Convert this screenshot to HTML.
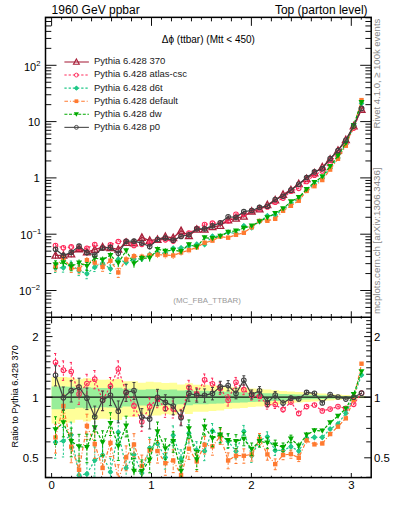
<!DOCTYPE html><html><head><meta charset="utf-8"><style>html,body{margin:0;padding:0;background:#fff}svg{display:block}</style></head><body><svg width="393" height="512" viewBox="0 0 393 512" font-family="Liberation Sans, sans-serif">
<rect width="393" height="512" fill="#fff"/>
<path d="M51.60,377.00L59.45,377.00L59.45,377.00L67.29,377.00L67.29,377.47L75.14,377.47L75.14,379.24L82.98,379.24L82.98,378.15L90.83,378.15L90.83,379.07L98.68,379.07L98.68,379.86L106.52,379.86L106.52,379.60L114.37,379.60L114.37,379.11L122.22,379.11L122.22,381.26L130.06,381.26L130.06,381.14L137.91,381.14L137.91,382.71L145.75,382.71L145.75,381.87L153.60,381.87L153.60,382.13L161.45,382.13L161.45,382.95L169.29,382.95L169.29,382.63L177.14,382.63L177.14,384.46L184.98,384.46L184.98,383.17L192.83,383.17L192.83,384.77L200.68,384.77L200.68,384.77L208.52,384.77L208.52,385.35L216.37,385.35L216.37,385.64L224.21,385.64L224.21,386.82L232.06,386.82L232.06,387.14L239.91,387.14L239.91,387.52L247.75,387.52L247.75,388.43L255.60,388.43L255.60,388.78L263.45,388.78L263.45,389.48L271.29,389.48L271.29,390.16L279.14,390.16L279.14,390.88L286.98,390.88L286.98,391.44L294.83,391.44L294.83,392.10L302.68,392.10L302.68,392.58L310.52,392.58L310.52,393.08L318.37,393.08L318.37,393.54L326.21,393.54L326.21,394.07L334.06,394.07L334.06,394.58L341.91,394.58L341.91,395.09L349.75,395.09L349.75,395.60L357.60,395.60L357.60,396.06L365.45,396.06L365.45,398.36L357.60,398.36L357.60,398.83L349.75,398.83L349.75,399.36L341.91,399.36L341.91,399.90L334.06,399.90L334.06,400.44L326.21,400.44L326.21,401.02L318.37,401.02L318.37,401.52L310.52,401.52L310.52,402.08L302.68,402.08L302.68,402.62L294.83,402.62L294.83,403.37L286.98,403.37L286.98,404.01L279.14,404.01L279.14,404.86L271.29,404.86L271.29,405.67L263.45,405.67L263.45,406.51L255.60,406.51L255.60,406.95L247.75,406.95L247.75,408.09L239.91,408.09L239.91,408.57L232.06,408.57L232.06,408.98L224.21,408.98L224.21,410.52L216.37,410.52L216.37,410.91L208.52,410.91L208.52,411.69L200.68,411.69L200.68,411.69L192.83,411.69L192.83,413.92L184.98,413.92L184.98,412.12L177.14,412.12L177.14,414.70L169.29,414.70L169.29,414.23L161.45,414.23L161.45,415.42L153.60,415.42L153.60,415.80L145.75,415.80L145.75,414.58L137.91,414.58L137.91,416.90L130.06,416.90L130.06,416.72L122.22,416.72L122.22,420.04L114.37,420.04L114.37,419.26L106.52,419.26L106.52,418.85L98.68,418.85L98.68,420.09L90.83,420.09L90.83,421.59L82.98,421.59L82.98,419.83L75.14,419.83L75.14,422.71L67.29,422.71L67.29,423.52L59.45,423.52L59.45,423.52L51.60,423.52Z" fill="#ffff99" stroke="none"/>
<path d="M51.60,386.52L59.45,386.52L59.45,386.52L67.29,386.52L67.29,386.78L75.14,386.78L75.14,387.76L82.98,387.76L82.98,387.16L90.83,387.16L90.83,387.67L98.68,387.67L98.68,388.10L106.52,388.10L106.52,387.96L114.37,387.96L114.37,387.69L122.22,387.69L122.22,388.86L130.06,388.86L130.06,388.80L137.91,388.80L137.91,389.66L145.75,389.66L145.75,389.20L153.60,389.20L153.60,389.34L161.45,389.34L161.45,389.79L169.29,389.79L169.29,389.61L177.14,389.61L177.14,390.60L184.98,390.60L184.98,389.90L192.83,389.90L192.83,390.77L200.68,390.77L200.68,390.77L208.52,390.77L208.52,391.08L216.37,391.08L216.37,391.23L224.21,391.23L224.21,391.86L232.06,391.86L232.06,392.02L239.91,392.02L239.91,392.23L247.75,392.23L247.75,392.71L255.60,392.71L255.60,392.89L263.45,392.89L263.45,393.25L271.29,393.25L271.29,393.61L279.14,393.61L279.14,393.98L286.98,393.98L286.98,394.27L294.83,394.27L294.83,394.61L302.68,394.61L302.68,394.86L310.52,394.86L310.52,395.12L318.37,395.12L318.37,395.35L326.21,395.35L326.21,395.62L334.06,395.62L334.06,395.88L341.91,395.88L341.91,396.14L349.75,396.14L349.75,396.40L357.60,396.40L357.60,396.63L365.45,396.63L365.45,397.78L357.60,397.78L357.60,398.01L349.75,398.01L349.75,398.28L341.91,398.28L341.91,398.54L334.06,398.54L334.06,398.81L326.21,398.81L326.21,399.09L318.37,399.09L318.37,399.33L310.52,399.33L310.52,399.61L302.68,399.61L302.68,399.87L294.83,399.87L294.83,400.23L286.98,400.23L286.98,400.54L279.14,400.54L279.14,400.95L271.29,400.95L271.29,401.33L263.45,401.33L263.45,401.73L255.60,401.73L255.60,401.94L247.75,401.94L247.75,402.47L239.91,402.47L239.91,402.70L232.06,402.70L232.06,402.89L224.21,402.89L224.21,403.61L216.37,403.61L216.37,403.79L208.52,403.79L208.52,404.15L200.68,404.15L200.68,404.15L192.83,404.15L192.83,405.16L184.98,405.16L184.98,404.34L177.14,404.34L177.14,405.51L169.29,405.51L169.29,405.30L161.45,405.30L161.45,405.84L153.60,405.84L153.60,406.01L145.75,406.01L145.75,405.46L137.91,405.46L137.91,406.49L130.06,406.49L130.06,406.41L122.22,406.41L122.22,407.88L114.37,407.88L114.37,407.53L106.52,407.53L106.52,407.36L98.68,407.36L98.68,407.90L90.83,407.90L90.83,408.55L82.98,408.55L82.98,407.78L75.14,407.78L75.14,409.03L67.29,409.03L67.29,409.37L59.45,409.37L59.45,409.37L51.60,409.37Z" fill="#99ee99" stroke="none"/>
<defs><clipPath id="cm"><rect x="45.5" y="17.35" width="325.7" height="299.95"/></clipPath><clipPath id="cr"><rect x="45.5" y="317.3" width="325.7" height="160.3"/></clipPath></defs>
<path d="M45.5,397.20H371.2" stroke="#111" stroke-width="1.3"/>
<path d="M55.52,362.34L63.37,370.13L71.22,371.48L79.06,394.11L86.91,383.62L94.75,379.17L102.60,400.31L110.45,386.21L118.29,369.04L126.14,392.44L133.98,405.93L141.83,421.77L149.68,406.41L157.52,398.97L165.37,408.67L173.21,409.07L181.06,416.71L188.91,387.21L196.75,393.94L204.60,379.82L212.45,383.85L220.29,388.39L228.14,400.22L235.98,382.21L243.83,389.67L251.68,395.47L259.52,396.33L267.37,404.78L275.21,404.58L283.06,409.58L290.91,401.96L298.75,413.38L306.60,406.61L314.45,404.97L322.29,410.90L330.14,409.07L337.98,406.61L345.83,408.38L353.68,404.30L361.52,393.18" fill="none" stroke="#ff2a5a" stroke-width="1.2" stroke-dasharray="2.3,1.9" clip-path="url(#cr)"/>
<path d="M55.52,353.49V372.18M54.02,353.49h3M54.02,372.18h3M63.37,360.90V380.44M61.87,360.90h3M61.87,380.44h3M71.22,362.42V381.60M69.72,362.42h3M69.72,381.60h3M79.06,384.82V404.50M77.56,384.82h3M77.56,404.50h3M86.91,374.29V394.07M85.41,374.29h3M85.41,394.07h3M94.75,370.53V388.77M93.25,370.53h3M93.25,388.77h3M102.60,391.06V410.66M101.10,391.06h3M101.10,410.66h3M110.45,377.50V395.87M108.95,377.50h3M108.95,395.87h3M118.29,360.88V378.05M116.79,360.88h3M116.79,378.05h3M126.14,384.31V401.39M124.64,384.31h3M124.64,401.39h3M133.98,397.12V415.72M132.48,397.12h3M132.48,415.72h3M141.83,413.14V431.34M140.33,413.14h3M140.33,431.34h3M149.68,398.00V415.72M148.18,398.00h3M148.18,415.72h3M157.52,391.03V407.70M156.02,391.03h3M156.02,407.70h3M165.37,400.78V417.35M163.87,400.78h3M163.87,417.35h3M173.21,400.98V418.00M171.71,400.98h3M171.71,418.00h3M181.06,409.36V424.73M179.56,409.36h3M179.56,424.73h3M188.91,380.31V394.72M187.41,380.31h3M187.41,394.72h3M196.75,387.62V400.75M195.25,387.62h3M195.25,400.75h3M204.60,373.97V386.08M203.10,373.97h3M203.10,386.08h3M212.45,378.16V389.93M210.95,378.16h3M210.95,389.93h3M220.29,382.71V394.47M218.79,382.71h3M218.79,394.47h3M228.14,394.79V406.02M226.64,394.79h3M226.64,406.02h3M235.98,377.45V387.25M234.48,377.45h3M234.48,387.25h3M243.83,384.90V394.71M242.33,384.90h3M242.33,394.71h3M251.68,391.02V400.16M250.18,391.02h3M250.18,400.16h3M259.52,392.04V400.84M258.02,392.04h3M258.02,400.84h3M267.37,400.66V409.10M265.87,400.66h3M265.87,409.10h3M275.21,400.84V408.50M273.71,400.84h3M273.71,408.50h3M283.06,406.13V413.17M290.91,398.95V405.07M298.75,410.55V416.32M306.60,404.14V409.15M314.45,402.79V407.20M322.29,408.90V412.94M330.14,407.39V410.79M337.98,405.21V408.02M345.83,407.24V409.52M353.68,403.46V405.14M361.52,392.62V393.75" fill="none" stroke="#ff2a5a" stroke-width="1" stroke-dasharray="2.3,1.9" clip-path="url(#cr)"/>
<g clip-path="url(#cr)"><circle cx="55.52" cy="362.34" r="2.3" fill="none" stroke="#ff2a5a" stroke-width="1.05"/><circle cx="63.37" cy="370.13" r="2.3" fill="none" stroke="#ff2a5a" stroke-width="1.05"/><circle cx="71.22" cy="371.48" r="2.3" fill="none" stroke="#ff2a5a" stroke-width="1.05"/><circle cx="79.06" cy="394.11" r="2.3" fill="none" stroke="#ff2a5a" stroke-width="1.05"/><circle cx="86.91" cy="383.62" r="2.3" fill="none" stroke="#ff2a5a" stroke-width="1.05"/><circle cx="94.75" cy="379.17" r="2.3" fill="none" stroke="#ff2a5a" stroke-width="1.05"/><circle cx="102.60" cy="400.31" r="2.3" fill="none" stroke="#ff2a5a" stroke-width="1.05"/><circle cx="110.45" cy="386.21" r="2.3" fill="none" stroke="#ff2a5a" stroke-width="1.05"/><circle cx="118.29" cy="369.04" r="2.3" fill="none" stroke="#ff2a5a" stroke-width="1.05"/><circle cx="126.14" cy="392.44" r="2.3" fill="none" stroke="#ff2a5a" stroke-width="1.05"/><circle cx="133.98" cy="405.93" r="2.3" fill="none" stroke="#ff2a5a" stroke-width="1.05"/><circle cx="141.83" cy="421.77" r="2.3" fill="none" stroke="#ff2a5a" stroke-width="1.05"/><circle cx="149.68" cy="406.41" r="2.3" fill="none" stroke="#ff2a5a" stroke-width="1.05"/><circle cx="157.52" cy="398.97" r="2.3" fill="none" stroke="#ff2a5a" stroke-width="1.05"/><circle cx="165.37" cy="408.67" r="2.3" fill="none" stroke="#ff2a5a" stroke-width="1.05"/><circle cx="173.21" cy="409.07" r="2.3" fill="none" stroke="#ff2a5a" stroke-width="1.05"/><circle cx="181.06" cy="416.71" r="2.3" fill="none" stroke="#ff2a5a" stroke-width="1.05"/><circle cx="188.91" cy="387.21" r="2.3" fill="none" stroke="#ff2a5a" stroke-width="1.05"/><circle cx="196.75" cy="393.94" r="2.3" fill="none" stroke="#ff2a5a" stroke-width="1.05"/><circle cx="204.60" cy="379.82" r="2.3" fill="none" stroke="#ff2a5a" stroke-width="1.05"/><circle cx="212.45" cy="383.85" r="2.3" fill="none" stroke="#ff2a5a" stroke-width="1.05"/><circle cx="220.29" cy="388.39" r="2.3" fill="none" stroke="#ff2a5a" stroke-width="1.05"/><circle cx="228.14" cy="400.22" r="2.3" fill="none" stroke="#ff2a5a" stroke-width="1.05"/><circle cx="235.98" cy="382.21" r="2.3" fill="none" stroke="#ff2a5a" stroke-width="1.05"/><circle cx="243.83" cy="389.67" r="2.3" fill="none" stroke="#ff2a5a" stroke-width="1.05"/><circle cx="251.68" cy="395.47" r="2.3" fill="none" stroke="#ff2a5a" stroke-width="1.05"/><circle cx="259.52" cy="396.33" r="2.3" fill="none" stroke="#ff2a5a" stroke-width="1.05"/><circle cx="267.37" cy="404.78" r="2.3" fill="none" stroke="#ff2a5a" stroke-width="1.05"/><circle cx="275.21" cy="404.58" r="2.3" fill="none" stroke="#ff2a5a" stroke-width="1.05"/><circle cx="283.06" cy="409.58" r="2.3" fill="none" stroke="#ff2a5a" stroke-width="1.05"/><circle cx="290.91" cy="401.96" r="2.3" fill="none" stroke="#ff2a5a" stroke-width="1.05"/><circle cx="298.75" cy="413.38" r="2.3" fill="none" stroke="#ff2a5a" stroke-width="1.05"/><circle cx="306.60" cy="406.61" r="2.3" fill="none" stroke="#ff2a5a" stroke-width="1.05"/><circle cx="314.45" cy="404.97" r="2.3" fill="none" stroke="#ff2a5a" stroke-width="1.05"/><circle cx="322.29" cy="410.90" r="2.3" fill="none" stroke="#ff2a5a" stroke-width="1.05"/><circle cx="330.14" cy="409.07" r="2.3" fill="none" stroke="#ff2a5a" stroke-width="1.05"/><circle cx="337.98" cy="406.61" r="2.3" fill="none" stroke="#ff2a5a" stroke-width="1.05"/><circle cx="345.83" cy="408.38" r="2.3" fill="none" stroke="#ff2a5a" stroke-width="1.05"/><circle cx="353.68" cy="404.30" r="2.3" fill="none" stroke="#ff2a5a" stroke-width="1.05"/><circle cx="361.52" cy="393.18" r="2.3" fill="none" stroke="#ff2a5a" stroke-width="1.05"/></g>
<path d="M55.52,442.15L63.37,440.99L71.22,434.86L79.06,475.15L86.91,473.88L94.75,460.28L102.60,455.04L110.45,472.01L118.29,432.34L126.14,467.99L133.98,454.71L141.83,473.04L149.68,447.89L157.52,443.77L165.37,457.45L173.21,435.26L181.06,459.03L188.91,433.26L196.75,450.26L204.60,451.07L212.45,430.92L220.29,434.86L228.14,441.13L235.98,451.23L243.83,431.43L251.68,455.72L259.52,440.41L267.37,436.76L275.21,450.42L283.06,450.42L290.91,446.65L298.75,451.07L306.60,438.15L314.45,437.32L322.29,437.32L330.14,429.01L337.98,423.88L345.83,413.17L353.68,396.94L361.52,375.01" fill="none" stroke="#20c888" stroke-width="1.2" stroke-dasharray="2.3,1.9" clip-path="url(#cr)"/>
<path d="M55.52,428.57V458.24M54.02,428.57h3M54.02,458.24h3M63.37,427.49V456.96M61.87,427.49h3M61.87,456.96h3M71.22,422.11V449.79M69.72,422.11h3M69.72,449.79h3M79.06,460.82V492.29M77.56,460.82h3M77.56,492.29h3M86.91,458.76V492.16M85.41,458.76h3M85.41,492.16h3M94.75,446.91V476.07M93.25,446.91h3M93.25,476.07h3M102.60,442.62V469.53M101.10,442.62h3M101.10,469.53h3M110.45,458.20V488.40M108.95,458.20h3M108.95,488.40h3M118.29,420.84V445.58M116.79,420.84h3M116.79,445.58h3M126.14,455.77V482.19M124.64,455.77h3M124.64,482.19h3M133.98,443.24V467.90M132.48,443.24h3M132.48,467.90h3M141.83,461.66V486.13M140.33,461.66h3M140.33,486.13h3M149.68,437.36V459.87M148.18,437.36h3M148.18,459.87h3M157.52,433.65V455.23M156.02,433.65h3M156.02,455.23h3M165.37,447.16V469.11M163.87,447.16h3M163.87,469.11h3M173.21,425.93V445.72M171.71,425.93h3M171.71,445.72h3M181.06,449.77V469.39M179.56,449.77h3M179.56,469.39h3M188.91,424.38V443.15M187.41,424.38h3M187.41,443.15h3M196.75,441.66V459.81M195.25,441.66h3M195.25,459.81h3M204.60,442.42V460.66M203.10,442.42h3M203.10,460.66h3M212.45,423.54V438.97M210.95,423.54h3M210.95,438.97h3M220.29,427.52V442.88M218.79,427.52h3M218.79,442.88h3M228.14,434.32V448.52M226.64,434.32h3M226.64,448.52h3M235.98,444.25V458.81M234.48,444.25h3M234.48,458.81h3M243.83,425.42V437.89M242.33,425.42h3M242.33,437.89h3M251.68,449.51V462.42M250.18,449.51h3M250.18,462.42h3M259.52,434.93V446.26M258.02,434.93h3M258.02,446.26h3M267.37,431.84V441.98M265.87,431.84h3M265.87,441.98h3M275.21,445.59V455.54M273.71,445.59h3M273.71,455.54h3M283.06,446.09V454.98M281.56,446.09h3M281.56,454.98h3M290.91,442.79V450.69M289.41,442.79h3M289.41,450.69h3M298.75,447.56V454.72M297.25,447.56h3M297.25,454.72h3M306.60,435.20V441.20M314.45,434.70V440.01M322.29,435.00V439.70M330.14,427.12V430.94M337.98,422.34V425.44M345.83,412.01V414.35M353.68,396.14V397.75M361.52,374.50V375.51" fill="none" stroke="#20c888" stroke-width="1" stroke-dasharray="2.3,1.9" clip-path="url(#cr)"/>
<g clip-path="url(#cr)"><path d="M55.52,439.05L58.32,442.15L55.52,445.25L52.72,442.15Z" fill="#20c888"/><circle cx="55.52" cy="442.15" r="2.1" fill="#20c888"/><path d="M63.37,437.89L66.17,440.99L63.37,444.09L60.57,440.99Z" fill="#20c888"/><circle cx="63.37" cy="440.99" r="2.1" fill="#20c888"/><path d="M71.22,431.76L74.02,434.86L71.22,437.96L68.42,434.86Z" fill="#20c888"/><circle cx="71.22" cy="434.86" r="2.1" fill="#20c888"/><path d="M79.06,472.05L81.86,475.15L79.06,478.25L76.26,475.15Z" fill="#20c888"/><circle cx="79.06" cy="475.15" r="2.1" fill="#20c888"/><path d="M86.91,470.78L89.71,473.88L86.91,476.98L84.11,473.88Z" fill="#20c888"/><circle cx="86.91" cy="473.88" r="2.1" fill="#20c888"/><path d="M94.75,457.18L97.55,460.28L94.75,463.38L91.95,460.28Z" fill="#20c888"/><circle cx="94.75" cy="460.28" r="2.1" fill="#20c888"/><path d="M102.60,451.94L105.40,455.04L102.60,458.14L99.80,455.04Z" fill="#20c888"/><circle cx="102.60" cy="455.04" r="2.1" fill="#20c888"/><path d="M110.45,468.91L113.25,472.01L110.45,475.11L107.65,472.01Z" fill="#20c888"/><circle cx="110.45" cy="472.01" r="2.1" fill="#20c888"/><path d="M118.29,429.24L121.09,432.34L118.29,435.44L115.49,432.34Z" fill="#20c888"/><circle cx="118.29" cy="432.34" r="2.1" fill="#20c888"/><path d="M126.14,464.89L128.94,467.99L126.14,471.09L123.34,467.99Z" fill="#20c888"/><circle cx="126.14" cy="467.99" r="2.1" fill="#20c888"/><path d="M133.98,451.61L136.78,454.71L133.98,457.81L131.18,454.71Z" fill="#20c888"/><circle cx="133.98" cy="454.71" r="2.1" fill="#20c888"/><path d="M141.83,469.94L144.63,473.04L141.83,476.14L139.03,473.04Z" fill="#20c888"/><circle cx="141.83" cy="473.04" r="2.1" fill="#20c888"/><path d="M149.68,444.79L152.48,447.89L149.68,450.99L146.88,447.89Z" fill="#20c888"/><circle cx="149.68" cy="447.89" r="2.1" fill="#20c888"/><path d="M157.52,440.67L160.32,443.77L157.52,446.87L154.72,443.77Z" fill="#20c888"/><circle cx="157.52" cy="443.77" r="2.1" fill="#20c888"/><path d="M165.37,454.35L168.17,457.45L165.37,460.55L162.57,457.45Z" fill="#20c888"/><circle cx="165.37" cy="457.45" r="2.1" fill="#20c888"/><path d="M173.21,432.16L176.01,435.26L173.21,438.36L170.41,435.26Z" fill="#20c888"/><circle cx="173.21" cy="435.26" r="2.1" fill="#20c888"/><path d="M181.06,455.93L183.86,459.03L181.06,462.13L178.26,459.03Z" fill="#20c888"/><circle cx="181.06" cy="459.03" r="2.1" fill="#20c888"/><path d="M188.91,430.16L191.71,433.26L188.91,436.36L186.11,433.26Z" fill="#20c888"/><circle cx="188.91" cy="433.26" r="2.1" fill="#20c888"/><path d="M196.75,447.16L199.55,450.26L196.75,453.36L193.95,450.26Z" fill="#20c888"/><circle cx="196.75" cy="450.26" r="2.1" fill="#20c888"/><path d="M204.60,447.97L207.40,451.07L204.60,454.17L201.80,451.07Z" fill="#20c888"/><circle cx="204.60" cy="451.07" r="2.1" fill="#20c888"/><path d="M212.45,427.82L215.25,430.92L212.45,434.02L209.65,430.92Z" fill="#20c888"/><circle cx="212.45" cy="430.92" r="2.1" fill="#20c888"/><path d="M220.29,431.76L223.09,434.86L220.29,437.96L217.49,434.86Z" fill="#20c888"/><circle cx="220.29" cy="434.86" r="2.1" fill="#20c888"/><path d="M228.14,438.03L230.94,441.13L228.14,444.23L225.34,441.13Z" fill="#20c888"/><circle cx="228.14" cy="441.13" r="2.1" fill="#20c888"/><path d="M235.98,448.13L238.78,451.23L235.98,454.33L233.18,451.23Z" fill="#20c888"/><circle cx="235.98" cy="451.23" r="2.1" fill="#20c888"/><path d="M243.83,428.33L246.63,431.43L243.83,434.53L241.03,431.43Z" fill="#20c888"/><circle cx="243.83" cy="431.43" r="2.1" fill="#20c888"/><path d="M251.68,452.62L254.48,455.72L251.68,458.82L248.88,455.72Z" fill="#20c888"/><circle cx="251.68" cy="455.72" r="2.1" fill="#20c888"/><path d="M259.52,437.31L262.32,440.41L259.52,443.51L256.72,440.41Z" fill="#20c888"/><circle cx="259.52" cy="440.41" r="2.1" fill="#20c888"/><path d="M267.37,433.66L270.17,436.76L267.37,439.86L264.57,436.76Z" fill="#20c888"/><circle cx="267.37" cy="436.76" r="2.1" fill="#20c888"/><path d="M275.21,447.32L278.01,450.42L275.21,453.52L272.41,450.42Z" fill="#20c888"/><circle cx="275.21" cy="450.42" r="2.1" fill="#20c888"/><path d="M283.06,447.32L285.86,450.42L283.06,453.52L280.26,450.42Z" fill="#20c888"/><circle cx="283.06" cy="450.42" r="2.1" fill="#20c888"/><path d="M290.91,443.55L293.71,446.65L290.91,449.75L288.11,446.65Z" fill="#20c888"/><circle cx="290.91" cy="446.65" r="2.1" fill="#20c888"/><path d="M298.75,447.97L301.55,451.07L298.75,454.17L295.95,451.07Z" fill="#20c888"/><circle cx="298.75" cy="451.07" r="2.1" fill="#20c888"/><path d="M306.60,435.05L309.40,438.15L306.60,441.25L303.80,438.15Z" fill="#20c888"/><circle cx="306.60" cy="438.15" r="2.1" fill="#20c888"/><path d="M314.45,434.22L317.25,437.32L314.45,440.42L311.65,437.32Z" fill="#20c888"/><circle cx="314.45" cy="437.32" r="2.1" fill="#20c888"/><path d="M322.29,434.22L325.09,437.32L322.29,440.42L319.49,437.32Z" fill="#20c888"/><circle cx="322.29" cy="437.32" r="2.1" fill="#20c888"/><path d="M330.14,425.91L332.94,429.01L330.14,432.11L327.34,429.01Z" fill="#20c888"/><circle cx="330.14" cy="429.01" r="2.1" fill="#20c888"/><path d="M337.98,420.78L340.78,423.88L337.98,426.98L335.18,423.88Z" fill="#20c888"/><circle cx="337.98" cy="423.88" r="2.1" fill="#20c888"/><path d="M345.83,410.07L348.63,413.17L345.83,416.27L343.03,413.17Z" fill="#20c888"/><circle cx="345.83" cy="413.17" r="2.1" fill="#20c888"/><path d="M353.68,393.84L356.48,396.94L353.68,400.04L350.88,396.94Z" fill="#20c888"/><circle cx="353.68" cy="396.94" r="2.1" fill="#20c888"/><path d="M361.52,371.91L364.32,375.01L361.52,378.11L358.72,375.01Z" fill="#20c888"/><circle cx="361.52" cy="375.01" r="2.1" fill="#20c888"/></g>
<path d="M55.52,437.45L63.37,406.02L71.22,446.65L79.06,469.77L86.91,425.92L94.75,444.07L102.60,467.99L110.45,442.88L118.29,479.52L126.14,457.45L133.98,444.52L141.83,466.04L149.68,450.26L157.52,451.07L165.37,463.21L173.21,460.46L181.06,475.15L188.91,448.67L196.75,461.37L204.60,444.82L212.45,446.34L220.29,436.35L228.14,460.46L235.98,455.72L243.83,455.72L251.68,454.37L259.52,438.99L267.37,454.37L275.21,464.14L283.06,455.04L290.91,454.03L298.75,457.80L306.60,440.41L314.45,444.37L322.29,443.48L330.14,434.06L337.98,426.65L345.83,418.36L353.68,399.77L361.52,363.70" fill="none" stroke="#ff7a30" stroke-width="1.2" stroke-dasharray="3.6,1.9,1,1.9" clip-path="url(#cr)"/>
<path d="M55.52,424.21V453.07M54.02,424.21h3M54.02,453.07h3M63.37,394.82V418.87M61.87,394.82h3M61.87,418.87h3M71.22,433.08V462.72M69.72,433.08h3M69.72,462.72h3M79.06,455.84V486.34M77.56,455.84h3M77.56,486.34h3M86.91,414.20V439.46M85.41,414.20h3M85.41,439.46h3M94.75,431.81V458.34M93.25,431.81h3M93.25,458.34h3M102.60,454.68V483.69M101.10,454.68h3M101.10,483.69h3M110.45,431.06V456.56M108.95,431.06h3M108.95,456.56h3M118.29,464.75V497.30M116.79,464.75h3M116.79,497.30h3M126.14,445.90V470.76M124.64,445.90h3M124.64,470.76h3M133.98,433.67V456.92M132.48,433.67h3M132.48,456.92h3M141.83,455.08V478.58M140.33,455.08h3M140.33,478.58h3M149.68,439.59V462.42M148.18,439.59h3M148.18,462.42h3M157.52,440.54V463.05M156.02,440.54h3M156.02,463.05h3M165.37,452.59V475.29M163.87,452.59h3M163.87,475.29h3M173.21,449.76V472.66M171.71,449.76h3M171.71,472.66h3M181.06,465.05V486.57M179.56,465.05h3M179.56,486.57h3M188.91,439.01V459.54M187.41,439.01h3M187.41,459.54h3M196.75,452.22V471.58M195.25,452.22h3M195.25,471.58h3M204.60,436.47V454.06M203.10,436.47h3M203.10,454.06h3M212.45,438.32V455.18M210.95,438.32h3M210.95,455.18h3M220.29,428.95V444.44M218.79,428.95h3M218.79,444.44h3M228.14,452.89V468.75M226.64,452.89h3M226.64,468.75h3M235.98,448.57V463.51M234.48,448.57h3M234.48,463.51h3M243.83,448.85V463.19M242.33,448.85h3M242.33,463.19h3M251.68,448.20V461.01M250.18,448.20h3M250.18,461.01h3M259.52,433.55V444.79M258.02,433.55h3M258.02,444.79h3M267.37,448.94V460.15M265.87,448.94h3M265.87,460.15h3M275.21,458.92V469.69M273.71,458.92h3M273.71,469.69h3M283.06,450.60V459.73M281.56,450.60h3M281.56,459.73h3M290.91,450.01V458.25M289.41,450.01h3M289.41,458.25h3M298.75,454.16V461.59M297.25,454.16h3M297.25,461.59h3M306.60,437.43V443.50M314.45,441.65V447.18M322.29,441.08V445.94M330.14,432.11V436.05M337.98,425.09V428.24M345.83,417.16V419.58M353.68,398.96V400.60M361.52,363.22V364.17" fill="none" stroke="#ff7a30" stroke-width="1" stroke-dasharray="3.6,1.9,1,1.9" clip-path="url(#cr)"/>
<g clip-path="url(#cr)"><rect x="53.32" y="435.25" width="4.4" height="4.4" fill="#ff7a30"/><rect x="61.17" y="403.82" width="4.4" height="4.4" fill="#ff7a30"/><rect x="69.02" y="444.45" width="4.4" height="4.4" fill="#ff7a30"/><rect x="76.86" y="467.57" width="4.4" height="4.4" fill="#ff7a30"/><rect x="84.71" y="423.72" width="4.4" height="4.4" fill="#ff7a30"/><rect x="92.55" y="441.87" width="4.4" height="4.4" fill="#ff7a30"/><rect x="100.40" y="465.79" width="4.4" height="4.4" fill="#ff7a30"/><rect x="108.25" y="440.68" width="4.4" height="4.4" fill="#ff7a30"/><rect x="116.09" y="477.32" width="4.4" height="4.4" fill="#ff7a30"/><rect x="123.94" y="455.25" width="4.4" height="4.4" fill="#ff7a30"/><rect x="131.78" y="442.32" width="4.4" height="4.4" fill="#ff7a30"/><rect x="139.63" y="463.84" width="4.4" height="4.4" fill="#ff7a30"/><rect x="147.48" y="448.06" width="4.4" height="4.4" fill="#ff7a30"/><rect x="155.32" y="448.87" width="4.4" height="4.4" fill="#ff7a30"/><rect x="163.17" y="461.01" width="4.4" height="4.4" fill="#ff7a30"/><rect x="171.01" y="458.26" width="4.4" height="4.4" fill="#ff7a30"/><rect x="178.86" y="472.95" width="4.4" height="4.4" fill="#ff7a30"/><rect x="186.71" y="446.47" width="4.4" height="4.4" fill="#ff7a30"/><rect x="194.55" y="459.17" width="4.4" height="4.4" fill="#ff7a30"/><rect x="202.40" y="442.62" width="4.4" height="4.4" fill="#ff7a30"/><rect x="210.25" y="444.14" width="4.4" height="4.4" fill="#ff7a30"/><rect x="218.09" y="434.15" width="4.4" height="4.4" fill="#ff7a30"/><rect x="225.94" y="458.26" width="4.4" height="4.4" fill="#ff7a30"/><rect x="233.78" y="453.52" width="4.4" height="4.4" fill="#ff7a30"/><rect x="241.63" y="453.52" width="4.4" height="4.4" fill="#ff7a30"/><rect x="249.48" y="452.17" width="4.4" height="4.4" fill="#ff7a30"/><rect x="257.32" y="436.79" width="4.4" height="4.4" fill="#ff7a30"/><rect x="265.17" y="452.17" width="4.4" height="4.4" fill="#ff7a30"/><rect x="273.01" y="461.94" width="4.4" height="4.4" fill="#ff7a30"/><rect x="280.86" y="452.84" width="4.4" height="4.4" fill="#ff7a30"/><rect x="288.71" y="451.83" width="4.4" height="4.4" fill="#ff7a30"/><rect x="296.55" y="455.60" width="4.4" height="4.4" fill="#ff7a30"/><rect x="304.40" y="438.21" width="4.4" height="4.4" fill="#ff7a30"/><rect x="312.25" y="442.17" width="4.4" height="4.4" fill="#ff7a30"/><rect x="320.09" y="441.28" width="4.4" height="4.4" fill="#ff7a30"/><rect x="327.94" y="431.86" width="4.4" height="4.4" fill="#ff7a30"/><rect x="335.78" y="424.45" width="4.4" height="4.4" fill="#ff7a30"/><rect x="343.63" y="416.16" width="4.4" height="4.4" fill="#ff7a30"/><rect x="351.48" y="397.57" width="4.4" height="4.4" fill="#ff7a30"/><rect x="359.32" y="361.50" width="4.4" height="4.4" fill="#ff7a30"/></g>
<path d="M55.52,429.51L63.37,422.58L71.22,441.28L79.06,446.65L86.91,447.27L94.75,427.51L102.60,442.44L110.45,423.41L118.29,446.04L126.14,425.92L133.98,470.98L141.83,471.19L149.68,459.92L157.52,431.56L165.37,448.67L173.21,441.42L181.06,470.98L188.91,428.63L196.75,459.56L204.60,426.77L212.45,438.29L220.29,434.86L228.14,440.41L235.98,441.28L243.83,438.99L251.68,448.99L259.52,441.28L267.37,442.88L275.21,444.82L283.06,447.27L290.91,438.85L298.75,445.73L306.60,434.86L314.45,430.53L322.29,430.92L330.14,422.58L337.98,416.05L345.83,408.67L353.68,394.28L361.52,371.48" fill="none" stroke="#00aa00" stroke-width="1.2" stroke-dasharray="3,1.6" clip-path="url(#cr)"/>
<path d="M55.52,416.81V444.38M54.02,416.81h3M54.02,444.38h3M63.37,410.34V436.82M61.87,410.34h3M61.87,436.82h3M71.22,428.09V456.82M69.72,428.09h3M69.72,456.82h3M79.06,434.33V460.99M77.56,434.33h3M77.56,460.99h3M86.91,434.13V462.73M85.41,434.13h3M85.41,462.73h3M94.75,416.29V440.39M93.25,416.29h3M93.25,440.39h3M102.60,430.83V455.84M101.10,430.83h3M101.10,455.84h3M110.45,412.76V435.53M108.95,412.76h3M108.95,435.53h3M118.29,433.67V460.45M116.79,433.67h3M116.79,460.45h3M126.14,416.18V436.89M124.64,416.18h3M124.64,436.89h3M133.98,458.48V485.58M132.48,458.48h3M132.48,485.58h3M141.83,459.91V484.13M140.33,459.91h3M140.33,484.13h3M149.68,448.68V472.82M148.18,448.68h3M148.18,472.82h3M157.52,422.08V442.19M156.02,422.08h3M156.02,442.19h3M165.37,438.86V459.73M163.87,438.86h3M163.87,459.73h3M173.21,431.77V452.28M171.71,431.77h3M171.71,452.28h3M181.06,461.11V482.12M179.56,461.11h3M179.56,482.12h3M188.91,419.97V438.25M187.41,419.97h3M187.41,438.25h3M196.75,450.51V469.66M195.25,450.51h3M195.25,469.66h3M204.60,419.20V435.06M203.10,419.20h3M203.10,435.06h3M212.45,430.61V446.71M210.95,430.61h3M210.95,446.71h3M220.29,427.52V442.88M218.79,427.52h3M218.79,442.88h3M228.14,433.63V447.77M226.64,433.63h3M226.64,447.77h3M235.98,434.67V448.42M234.48,434.67h3M234.48,448.42h3M243.83,432.72V445.75M242.33,432.72h3M242.33,445.75h3M251.68,443.00V455.42M250.18,443.00h3M250.18,455.42h3M259.52,435.77V447.15M258.02,435.77h3M258.02,447.15h3M267.37,437.79V448.29M265.87,437.79h3M265.87,448.29h3M275.21,440.13V449.78M273.71,440.13h3M273.71,449.78h3M283.06,443.01V451.74M281.56,443.01h3M281.56,451.74h3M290.91,435.15V442.71M289.41,435.15h3M289.41,442.71h3M298.75,442.33V449.27M306.60,431.97V437.85M314.45,428.02V433.12M322.29,428.68V433.21M330.14,420.76V424.44M337.98,414.59V417.55M345.83,407.54V409.82M353.68,393.49V395.07M361.52,370.99V371.98" fill="none" stroke="#00aa00" stroke-width="1" stroke-dasharray="3,1.6" clip-path="url(#cr)"/>
<g clip-path="url(#cr)"><path d="M52.52,427.21L58.52,427.21L55.52,432.41Z" fill="#00aa00"/><path d="M60.37,420.28L66.37,420.28L63.37,425.48Z" fill="#00aa00"/><path d="M68.22,438.98L74.22,438.98L71.22,444.18Z" fill="#00aa00"/><path d="M76.06,444.35L82.06,444.35L79.06,449.55Z" fill="#00aa00"/><path d="M83.91,444.97L89.91,444.97L86.91,450.17Z" fill="#00aa00"/><path d="M91.75,425.21L97.75,425.21L94.75,430.41Z" fill="#00aa00"/><path d="M99.60,440.14L105.60,440.14L102.60,445.34Z" fill="#00aa00"/><path d="M107.45,421.11L113.45,421.11L110.45,426.31Z" fill="#00aa00"/><path d="M115.29,443.74L121.29,443.74L118.29,448.94Z" fill="#00aa00"/><path d="M123.14,423.62L129.14,423.62L126.14,428.82Z" fill="#00aa00"/><path d="M130.98,468.68L136.98,468.68L133.98,473.88Z" fill="#00aa00"/><path d="M138.83,468.89L144.83,468.89L141.83,474.09Z" fill="#00aa00"/><path d="M146.68,457.62L152.68,457.62L149.68,462.82Z" fill="#00aa00"/><path d="M154.52,429.26L160.52,429.26L157.52,434.46Z" fill="#00aa00"/><path d="M162.37,446.37L168.37,446.37L165.37,451.57Z" fill="#00aa00"/><path d="M170.21,439.12L176.21,439.12L173.21,444.32Z" fill="#00aa00"/><path d="M178.06,468.68L184.06,468.68L181.06,473.88Z" fill="#00aa00"/><path d="M185.91,426.33L191.91,426.33L188.91,431.53Z" fill="#00aa00"/><path d="M193.75,457.26L199.75,457.26L196.75,462.46Z" fill="#00aa00"/><path d="M201.60,424.47L207.60,424.47L204.60,429.67Z" fill="#00aa00"/><path d="M209.45,435.99L215.45,435.99L212.45,441.19Z" fill="#00aa00"/><path d="M217.29,432.56L223.29,432.56L220.29,437.76Z" fill="#00aa00"/><path d="M225.14,438.11L231.14,438.11L228.14,443.31Z" fill="#00aa00"/><path d="M232.98,438.98L238.98,438.98L235.98,444.18Z" fill="#00aa00"/><path d="M240.83,436.69L246.83,436.69L243.83,441.89Z" fill="#00aa00"/><path d="M248.68,446.69L254.68,446.69L251.68,451.89Z" fill="#00aa00"/><path d="M256.52,438.98L262.52,438.98L259.52,444.18Z" fill="#00aa00"/><path d="M264.37,440.58L270.37,440.58L267.37,445.78Z" fill="#00aa00"/><path d="M272.21,442.52L278.21,442.52L275.21,447.72Z" fill="#00aa00"/><path d="M280.06,444.97L286.06,444.97L283.06,450.17Z" fill="#00aa00"/><path d="M287.91,436.55L293.91,436.55L290.91,441.75Z" fill="#00aa00"/><path d="M295.75,443.43L301.75,443.43L298.75,448.63Z" fill="#00aa00"/><path d="M303.60,432.56L309.60,432.56L306.60,437.76Z" fill="#00aa00"/><path d="M311.45,428.23L317.45,428.23L314.45,433.43Z" fill="#00aa00"/><path d="M319.29,428.62L325.29,428.62L322.29,433.82Z" fill="#00aa00"/><path d="M327.14,420.28L333.14,420.28L330.14,425.48Z" fill="#00aa00"/><path d="M334.98,413.75L340.98,413.75L337.98,418.95Z" fill="#00aa00"/><path d="M342.83,406.37L348.83,406.37L345.83,411.57Z" fill="#00aa00"/><path d="M350.68,391.98L356.68,391.98L353.68,397.18Z" fill="#00aa00"/><path d="M358.52,369.18L364.52,369.18L361.52,374.38Z" fill="#00aa00"/></g>
<path d="M55.52,375.28L63.37,397.73L71.22,390.63L79.06,387.14L86.91,398.17L94.75,416.71L102.60,400.31L110.45,395.38L118.29,411.20L126.14,392.44L133.98,390.63L141.83,417.04L149.68,418.92L157.52,397.20L165.37,402.42L173.21,406.02L181.06,417.70L188.91,393.44L196.75,395.30L204.60,395.30L212.45,393.44L220.29,386.90L228.14,385.59L235.98,393.44L243.83,380.32L251.68,394.36L259.52,390.80L267.37,402.52L275.21,395.13L283.06,403.08L290.91,398.17L298.75,398.88L306.60,392.44L314.45,393.35L322.29,402.89L330.14,394.45L337.98,397.03L345.83,399.06L353.68,397.20L361.52,393.18" fill="none" stroke="#404040" stroke-width="1.2" clip-path="url(#cr)"/>
<path d="M55.52,365.79V385.92M54.02,365.79h3M54.02,385.92h3M63.37,387.01V409.94M61.87,387.01h3M61.87,409.94h3M71.22,380.58V402.00M69.72,380.58h3M69.72,402.00h3M79.06,378.20V397.09M77.56,378.20h3M77.56,397.09h3M86.91,388.07V409.58M85.41,388.07h3M85.41,409.58h3M94.75,406.12V428.76M93.25,406.12h3M93.25,428.76h3M102.60,391.06V410.66M101.10,391.06h3M101.10,410.66h3M110.45,386.23V405.60M108.95,386.23h3M108.95,405.60h3M118.29,400.94V422.83M116.79,400.94h3M116.79,422.83h3M126.14,384.31V401.39M124.64,384.31h3M124.64,401.39h3M133.98,382.53V399.57M132.48,382.53h3M132.48,399.57h3M141.83,408.63V426.34M140.33,408.63h3M140.33,426.34h3M149.68,409.92V428.96M148.18,409.92h3M148.18,428.96h3M157.52,389.34V405.84M156.02,389.34h3M156.02,405.84h3M165.37,394.80V410.78M163.87,394.80h3M163.87,410.78h3M173.21,398.06V414.79M171.71,398.06h3M171.71,414.79h3M181.06,410.31V425.77M179.56,410.31h3M179.56,425.77h3M188.91,386.29V401.22M187.41,386.29h3M187.41,401.22h3M196.75,388.93V402.16M195.25,388.93h3M195.25,402.16h3M204.60,388.93V402.16M203.10,388.93h3M203.10,402.16h3M212.45,387.44V399.88M210.95,387.44h3M210.95,399.88h3M220.29,381.26V392.93M218.79,381.26h3M218.79,392.93h3M228.14,380.58V390.91M226.64,380.58h3M226.64,390.91h3M235.98,388.37V398.82M234.48,388.37h3M234.48,398.82h3M243.83,375.79V385.09M242.33,375.79h3M242.33,385.09h3M251.68,389.94V399.02M250.18,389.94h3M250.18,399.02h3M259.52,386.64V395.16M258.02,386.64h3M258.02,395.16h3M267.37,398.45V406.78M265.87,398.45h3M265.87,406.78h3M275.21,391.58V398.83M273.71,391.58h3M273.71,398.83h3M283.06,399.75V406.53M290.91,395.22V401.21M298.75,396.26V401.57M306.60,390.16V394.78M314.45,391.31V395.44M322.29,400.98V404.84M330.14,392.89V396.03M337.98,395.71V398.36M345.83,397.98V400.14M353.68,396.40V398.01M361.52,392.62V393.75" fill="none" stroke="#404040" stroke-width="1" clip-path="url(#cr)"/>
<g clip-path="url(#cr)"><circle cx="55.52" cy="375.28" r="2.3" fill="none" stroke="#404040" stroke-width="1.05"/><circle cx="63.37" cy="397.73" r="2.3" fill="none" stroke="#404040" stroke-width="1.05"/><circle cx="71.22" cy="390.63" r="2.3" fill="none" stroke="#404040" stroke-width="1.05"/><circle cx="79.06" cy="387.14" r="2.3" fill="none" stroke="#404040" stroke-width="1.05"/><circle cx="86.91" cy="398.17" r="2.3" fill="none" stroke="#404040" stroke-width="1.05"/><circle cx="94.75" cy="416.71" r="2.3" fill="none" stroke="#404040" stroke-width="1.05"/><circle cx="102.60" cy="400.31" r="2.3" fill="none" stroke="#404040" stroke-width="1.05"/><circle cx="110.45" cy="395.38" r="2.3" fill="none" stroke="#404040" stroke-width="1.05"/><circle cx="118.29" cy="411.20" r="2.3" fill="none" stroke="#404040" stroke-width="1.05"/><circle cx="126.14" cy="392.44" r="2.3" fill="none" stroke="#404040" stroke-width="1.05"/><circle cx="133.98" cy="390.63" r="2.3" fill="none" stroke="#404040" stroke-width="1.05"/><circle cx="141.83" cy="417.04" r="2.3" fill="none" stroke="#404040" stroke-width="1.05"/><circle cx="149.68" cy="418.92" r="2.3" fill="none" stroke="#404040" stroke-width="1.05"/><circle cx="157.52" cy="397.20" r="2.3" fill="none" stroke="#404040" stroke-width="1.05"/><circle cx="165.37" cy="402.42" r="2.3" fill="none" stroke="#404040" stroke-width="1.05"/><circle cx="173.21" cy="406.02" r="2.3" fill="none" stroke="#404040" stroke-width="1.05"/><circle cx="181.06" cy="417.70" r="2.3" fill="none" stroke="#404040" stroke-width="1.05"/><circle cx="188.91" cy="393.44" r="2.3" fill="none" stroke="#404040" stroke-width="1.05"/><circle cx="196.75" cy="395.30" r="2.3" fill="none" stroke="#404040" stroke-width="1.05"/><circle cx="204.60" cy="395.30" r="2.3" fill="none" stroke="#404040" stroke-width="1.05"/><circle cx="212.45" cy="393.44" r="2.3" fill="none" stroke="#404040" stroke-width="1.05"/><circle cx="220.29" cy="386.90" r="2.3" fill="none" stroke="#404040" stroke-width="1.05"/><circle cx="228.14" cy="385.59" r="2.3" fill="none" stroke="#404040" stroke-width="1.05"/><circle cx="235.98" cy="393.44" r="2.3" fill="none" stroke="#404040" stroke-width="1.05"/><circle cx="243.83" cy="380.32" r="2.3" fill="none" stroke="#404040" stroke-width="1.05"/><circle cx="251.68" cy="394.36" r="2.3" fill="none" stroke="#404040" stroke-width="1.05"/><circle cx="259.52" cy="390.80" r="2.3" fill="none" stroke="#404040" stroke-width="1.05"/><circle cx="267.37" cy="402.52" r="2.3" fill="none" stroke="#404040" stroke-width="1.05"/><circle cx="275.21" cy="395.13" r="2.3" fill="none" stroke="#404040" stroke-width="1.05"/><circle cx="283.06" cy="403.08" r="2.3" fill="none" stroke="#404040" stroke-width="1.05"/><circle cx="290.91" cy="398.17" r="2.3" fill="none" stroke="#404040" stroke-width="1.05"/><circle cx="298.75" cy="398.88" r="2.3" fill="none" stroke="#404040" stroke-width="1.05"/><circle cx="306.60" cy="392.44" r="2.3" fill="none" stroke="#404040" stroke-width="1.05"/><circle cx="314.45" cy="393.35" r="2.3" fill="none" stroke="#404040" stroke-width="1.05"/><circle cx="322.29" cy="402.89" r="2.3" fill="none" stroke="#404040" stroke-width="1.05"/><circle cx="330.14" cy="394.45" r="2.3" fill="none" stroke="#404040" stroke-width="1.05"/><circle cx="337.98" cy="397.03" r="2.3" fill="none" stroke="#404040" stroke-width="1.05"/><circle cx="345.83" cy="399.06" r="2.3" fill="none" stroke="#404040" stroke-width="1.05"/><circle cx="353.68" cy="397.20" r="2.3" fill="none" stroke="#404040" stroke-width="1.05"/><circle cx="361.52" cy="393.18" r="2.3" fill="none" stroke="#404040" stroke-width="1.05"/></g>
<path d="M55.52,255.40L63.37,255.40L71.22,254.10L79.06,249.00L86.91,252.20L94.75,249.50L102.60,247.10L110.45,247.90L118.29,249.40L126.14,242.60L133.98,243.00L141.83,237.50L149.68,240.50L157.52,239.60L165.37,236.60L173.21,237.80L181.06,230.70L188.91,235.80L196.75,229.40L204.60,229.40L212.45,226.90L220.29,225.60L228.14,220.00L235.98,218.40L243.83,216.40L251.68,211.30L259.52,209.20L267.37,204.80L275.21,200.10L283.06,194.60L290.91,189.90L298.75,183.80L306.60,178.80L314.45,173.00L322.29,167.10L330.14,159.30L337.98,150.50L345.83,139.80L353.68,126.10L361.52,109.50" fill="none" stroke="#a8203a" stroke-width="1.3" clip-path="url(#cm)"/>
<path d="M55.52,252.41V258.80M63.37,252.41V258.80M71.22,251.19V257.41M79.06,246.36V251.96M86.91,249.39V255.37M94.75,246.83V252.49M102.60,244.56V249.94M110.45,245.32V250.79M118.29,246.74V252.39M126.14,240.27V245.18M133.98,240.65V245.60M141.83,235.39V239.81M149.68,238.26V242.96M157.52,237.40V242.02M165.37,234.53V238.87M173.21,235.68V240.12M181.06,228.85V232.70M188.91,233.76V238.03M196.75,227.60V231.34M204.60,227.60V231.34M212.45,225.19V228.74M220.29,223.93V227.39M228.14,218.51V221.59M235.98,216.95V219.94M243.83,215.01V217.88M251.68,210.04V212.62M259.52,207.99V210.47M267.37,203.70V205.96M275.21,199.10V201.15M283.06,193.70V195.53M290.91,189.08V190.75M298.75,183.08V184.55M306.60,178.15V179.47M314.45,172.42V173.60M322.29,166.58V167.63M330.14,158.86V159.75M337.98,150.13V150.87M345.83,139.50V140.10M353.68,125.88V126.33M361.52,109.34V109.66" fill="none" stroke="#a8203a" stroke-width="1" clip-path="url(#cm)"/>
<g clip-path="url(#cm)"><path d="M55.52,251.80L58.92,258.10L52.12,258.10Z" fill="none" stroke="#a8203a" stroke-width="1.35"/><path d="M63.37,251.80L66.77,258.10L59.97,258.10Z" fill="none" stroke="#a8203a" stroke-width="1.35"/><path d="M71.22,250.50L74.62,256.80L67.82,256.80Z" fill="none" stroke="#a8203a" stroke-width="1.35"/><path d="M79.06,245.40L82.46,251.70L75.66,251.70Z" fill="none" stroke="#a8203a" stroke-width="1.35"/><path d="M86.91,248.60L90.31,254.90L83.51,254.90Z" fill="none" stroke="#a8203a" stroke-width="1.35"/><path d="M94.75,245.90L98.15,252.20L91.35,252.20Z" fill="none" stroke="#a8203a" stroke-width="1.35"/><path d="M102.60,243.50L106.00,249.80L99.20,249.80Z" fill="none" stroke="#a8203a" stroke-width="1.35"/><path d="M110.45,244.30L113.85,250.60L107.05,250.60Z" fill="none" stroke="#a8203a" stroke-width="1.35"/><path d="M118.29,245.80L121.69,252.10L114.89,252.10Z" fill="none" stroke="#a8203a" stroke-width="1.35"/><path d="M126.14,239.00L129.54,245.30L122.74,245.30Z" fill="none" stroke="#a8203a" stroke-width="1.35"/><path d="M133.98,239.40L137.38,245.70L130.58,245.70Z" fill="none" stroke="#a8203a" stroke-width="1.35"/><path d="M141.83,233.90L145.23,240.20L138.43,240.20Z" fill="none" stroke="#a8203a" stroke-width="1.35"/><path d="M149.68,236.90L153.08,243.20L146.28,243.20Z" fill="none" stroke="#a8203a" stroke-width="1.35"/><path d="M157.52,236.00L160.92,242.30L154.12,242.30Z" fill="none" stroke="#a8203a" stroke-width="1.35"/><path d="M165.37,233.00L168.77,239.30L161.97,239.30Z" fill="none" stroke="#a8203a" stroke-width="1.35"/><path d="M173.21,234.20L176.61,240.50L169.81,240.50Z" fill="none" stroke="#a8203a" stroke-width="1.35"/><path d="M181.06,227.10L184.46,233.40L177.66,233.40Z" fill="none" stroke="#a8203a" stroke-width="1.35"/><path d="M188.91,232.20L192.31,238.50L185.51,238.50Z" fill="none" stroke="#a8203a" stroke-width="1.35"/><path d="M196.75,225.80L200.15,232.10L193.35,232.10Z" fill="none" stroke="#a8203a" stroke-width="1.35"/><path d="M204.60,225.80L208.00,232.10L201.20,232.10Z" fill="none" stroke="#a8203a" stroke-width="1.35"/><path d="M212.45,223.30L215.85,229.60L209.05,229.60Z" fill="none" stroke="#a8203a" stroke-width="1.35"/><path d="M220.29,222.00L223.69,228.30L216.89,228.30Z" fill="none" stroke="#a8203a" stroke-width="1.35"/><path d="M228.14,216.40L231.54,222.70L224.74,222.70Z" fill="none" stroke="#a8203a" stroke-width="1.35"/><path d="M235.98,214.80L239.38,221.10L232.58,221.10Z" fill="none" stroke="#a8203a" stroke-width="1.35"/><path d="M243.83,212.80L247.23,219.10L240.43,219.10Z" fill="none" stroke="#a8203a" stroke-width="1.35"/><path d="M251.68,207.70L255.08,214.00L248.28,214.00Z" fill="none" stroke="#a8203a" stroke-width="1.35"/><path d="M259.52,205.60L262.92,211.90L256.12,211.90Z" fill="none" stroke="#a8203a" stroke-width="1.35"/><path d="M267.37,201.20L270.77,207.50L263.97,207.50Z" fill="none" stroke="#a8203a" stroke-width="1.35"/><path d="M275.21,196.50L278.61,202.80L271.81,202.80Z" fill="none" stroke="#a8203a" stroke-width="1.35"/><path d="M283.06,191.00L286.46,197.30L279.66,197.30Z" fill="none" stroke="#a8203a" stroke-width="1.35"/><path d="M290.91,186.30L294.31,192.60L287.51,192.60Z" fill="none" stroke="#a8203a" stroke-width="1.35"/><path d="M298.75,180.20L302.15,186.50L295.35,186.50Z" fill="none" stroke="#a8203a" stroke-width="1.35"/><path d="M306.60,175.20L310.00,181.50L303.20,181.50Z" fill="none" stroke="#a8203a" stroke-width="1.35"/><path d="M314.45,169.40L317.85,175.70L311.05,175.70Z" fill="none" stroke="#a8203a" stroke-width="1.35"/><path d="M322.29,163.50L325.69,169.80L318.89,169.80Z" fill="none" stroke="#a8203a" stroke-width="1.35"/><path d="M330.14,155.70L333.54,162.00L326.74,162.00Z" fill="none" stroke="#a8203a" stroke-width="1.35"/><path d="M337.98,146.90L341.38,153.20L334.58,153.20Z" fill="none" stroke="#a8203a" stroke-width="1.35"/><path d="M345.83,136.20L349.23,142.50L342.43,142.50Z" fill="none" stroke="#a8203a" stroke-width="1.35"/><path d="M353.68,122.50L357.08,128.80L350.28,128.80Z" fill="none" stroke="#a8203a" stroke-width="1.35"/><path d="M361.52,105.90L364.92,112.20L358.12,112.20Z" fill="none" stroke="#a8203a" stroke-width="1.35"/></g>
<path d="M55.52,245.65L63.37,247.83L71.22,246.91L79.06,248.14L86.91,248.40L94.75,244.46L102.60,247.97L110.45,244.83L118.29,241.52L126.14,241.27L133.98,245.44L141.83,244.37L149.68,243.08L157.52,240.09L165.37,239.81L173.21,241.12L181.06,236.16L188.91,233.01L196.75,228.49L204.60,224.54L212.45,223.17L220.29,223.14L228.14,220.85L235.98,214.21L243.83,214.29L251.68,210.82L259.52,208.96L267.37,206.92L275.21,202.17L283.06,198.06L290.91,191.23L298.75,188.33L306.60,181.43L314.45,175.17L322.29,170.93L330.14,162.62L337.98,153.13L345.83,142.93L353.68,128.09L361.52,108.38" fill="none" stroke="#ff2a5a" stroke-width="1.2" stroke-dasharray="2.3,1.9" clip-path="url(#cm)"/>
<path d="M55.52,243.18V248.40M63.37,245.25V250.71M71.22,244.37V249.74M79.06,245.54V251.04M86.91,245.79V251.33M94.75,242.04V247.14M102.60,245.38V250.87M110.45,242.39V247.53M118.29,239.24V244.04M126.14,239.00V243.77M133.98,242.98V248.18M141.83,241.96V247.05M149.68,240.72V245.68M157.52,237.87V242.54M165.37,237.60V242.24M173.21,238.86V243.62M181.06,234.10V238.40M188.91,231.08V235.11M196.75,226.72V230.39M204.60,222.90V226.29M212.45,221.57V224.87M220.29,221.55V224.84M228.14,219.33V222.47M235.98,212.88V215.62M243.83,212.96V215.70M251.68,209.57V212.13M259.52,207.76V210.22M267.37,205.77V208.13M275.21,201.12V203.26M283.06,197.10V199.07M290.91,190.39V192.10M298.75,187.53V189.15M306.60,180.74V182.14M314.45,174.56V175.80M322.29,170.37V171.50M330.14,162.15V163.10M337.98,152.74V153.53M345.83,142.61V143.25M353.68,127.85V128.32M361.52,108.22V108.53" fill="none" stroke="#ff2a5a" stroke-width="1" stroke-dasharray="2.3,1.9" clip-path="url(#cm)"/>
<g clip-path="url(#cm)"><circle cx="55.52" cy="245.65" r="2.3" fill="none" stroke="#ff2a5a" stroke-width="1.05"/><circle cx="63.37" cy="247.83" r="2.3" fill="none" stroke="#ff2a5a" stroke-width="1.05"/><circle cx="71.22" cy="246.91" r="2.3" fill="none" stroke="#ff2a5a" stroke-width="1.05"/><circle cx="79.06" cy="248.14" r="2.3" fill="none" stroke="#ff2a5a" stroke-width="1.05"/><circle cx="86.91" cy="248.40" r="2.3" fill="none" stroke="#ff2a5a" stroke-width="1.05"/><circle cx="94.75" cy="244.46" r="2.3" fill="none" stroke="#ff2a5a" stroke-width="1.05"/><circle cx="102.60" cy="247.97" r="2.3" fill="none" stroke="#ff2a5a" stroke-width="1.05"/><circle cx="110.45" cy="244.83" r="2.3" fill="none" stroke="#ff2a5a" stroke-width="1.05"/><circle cx="118.29" cy="241.52" r="2.3" fill="none" stroke="#ff2a5a" stroke-width="1.05"/><circle cx="126.14" cy="241.27" r="2.3" fill="none" stroke="#ff2a5a" stroke-width="1.05"/><circle cx="133.98" cy="245.44" r="2.3" fill="none" stroke="#ff2a5a" stroke-width="1.05"/><circle cx="141.83" cy="244.37" r="2.3" fill="none" stroke="#ff2a5a" stroke-width="1.05"/><circle cx="149.68" cy="243.08" r="2.3" fill="none" stroke="#ff2a5a" stroke-width="1.05"/><circle cx="157.52" cy="240.09" r="2.3" fill="none" stroke="#ff2a5a" stroke-width="1.05"/><circle cx="165.37" cy="239.81" r="2.3" fill="none" stroke="#ff2a5a" stroke-width="1.05"/><circle cx="173.21" cy="241.12" r="2.3" fill="none" stroke="#ff2a5a" stroke-width="1.05"/><circle cx="181.06" cy="236.16" r="2.3" fill="none" stroke="#ff2a5a" stroke-width="1.05"/><circle cx="188.91" cy="233.01" r="2.3" fill="none" stroke="#ff2a5a" stroke-width="1.05"/><circle cx="196.75" cy="228.49" r="2.3" fill="none" stroke="#ff2a5a" stroke-width="1.05"/><circle cx="204.60" cy="224.54" r="2.3" fill="none" stroke="#ff2a5a" stroke-width="1.05"/><circle cx="212.45" cy="223.17" r="2.3" fill="none" stroke="#ff2a5a" stroke-width="1.05"/><circle cx="220.29" cy="223.14" r="2.3" fill="none" stroke="#ff2a5a" stroke-width="1.05"/><circle cx="228.14" cy="220.85" r="2.3" fill="none" stroke="#ff2a5a" stroke-width="1.05"/><circle cx="235.98" cy="214.21" r="2.3" fill="none" stroke="#ff2a5a" stroke-width="1.05"/><circle cx="243.83" cy="214.29" r="2.3" fill="none" stroke="#ff2a5a" stroke-width="1.05"/><circle cx="251.68" cy="210.82" r="2.3" fill="none" stroke="#ff2a5a" stroke-width="1.05"/><circle cx="259.52" cy="208.96" r="2.3" fill="none" stroke="#ff2a5a" stroke-width="1.05"/><circle cx="267.37" cy="206.92" r="2.3" fill="none" stroke="#ff2a5a" stroke-width="1.05"/><circle cx="275.21" cy="202.17" r="2.3" fill="none" stroke="#ff2a5a" stroke-width="1.05"/><circle cx="283.06" cy="198.06" r="2.3" fill="none" stroke="#ff2a5a" stroke-width="1.05"/><circle cx="290.91" cy="191.23" r="2.3" fill="none" stroke="#ff2a5a" stroke-width="1.05"/><circle cx="298.75" cy="188.33" r="2.3" fill="none" stroke="#ff2a5a" stroke-width="1.05"/><circle cx="306.60" cy="181.43" r="2.3" fill="none" stroke="#ff2a5a" stroke-width="1.05"/><circle cx="314.45" cy="175.17" r="2.3" fill="none" stroke="#ff2a5a" stroke-width="1.05"/><circle cx="322.29" cy="170.93" r="2.3" fill="none" stroke="#ff2a5a" stroke-width="1.05"/><circle cx="330.14" cy="162.62" r="2.3" fill="none" stroke="#ff2a5a" stroke-width="1.05"/><circle cx="337.98" cy="153.13" r="2.3" fill="none" stroke="#ff2a5a" stroke-width="1.05"/><circle cx="345.83" cy="142.93" r="2.3" fill="none" stroke="#ff2a5a" stroke-width="1.05"/><circle cx="353.68" cy="128.09" r="2.3" fill="none" stroke="#ff2a5a" stroke-width="1.05"/><circle cx="361.52" cy="108.38" r="2.3" fill="none" stroke="#ff2a5a" stroke-width="1.05"/></g>
<path d="M55.52,267.97L63.37,267.65L71.22,264.63L79.06,270.80L86.91,273.65L94.75,267.14L102.60,263.28L110.45,268.82L118.29,259.23L126.14,262.40L133.98,259.08L141.83,258.71L149.68,254.68L157.52,252.63L165.37,253.45L173.21,248.45L181.06,247.99L188.91,245.89L196.75,244.24L204.60,244.47L212.45,236.33L220.29,236.13L228.14,232.29L235.98,233.51L243.83,225.97L251.68,227.67L259.52,221.29L267.37,215.87L275.21,214.99L283.06,209.49L290.91,203.73L298.75,198.87L306.60,190.25L314.45,184.22L322.29,178.32L330.14,168.20L337.98,157.96L345.83,144.27L353.68,126.03L361.52,103.29" fill="none" stroke="#20c888" stroke-width="1.2" stroke-dasharray="2.3,1.9" clip-path="url(#cm)"/>
<path d="M55.52,264.17V272.47M54.02,264.17h3M54.02,272.47h3M63.37,263.87V272.11M61.87,263.87h3M61.87,272.11h3M71.22,261.07V268.81M69.72,261.07h3M69.72,268.81h3M79.06,266.79V275.60M77.56,266.79h3M77.56,275.60h3M86.91,269.42V278.76M85.41,269.42h3M85.41,278.76h3M94.75,263.40V271.56M93.25,263.40h3M93.25,271.56h3M102.60,259.80V267.33M110.45,264.96V273.41M108.95,264.96h3M108.95,273.41h3M118.29,256.01V262.93M126.14,258.98V266.37M133.98,255.88V262.77M141.83,255.53V262.37M149.68,251.73V258.03M157.52,249.79V255.83M165.37,250.57V256.71M173.21,245.83V251.37M181.06,245.40V250.89M188.91,243.40V248.65M196.75,241.83V246.91M204.60,242.05V247.15M212.45,234.27V238.58M220.29,234.08V238.38M228.14,230.38V234.35M235.98,231.56V235.63M243.83,224.29V227.78M251.68,225.93V229.54M259.52,219.75V222.92M267.37,214.49V217.32M275.21,213.63V216.42M283.06,208.27V210.76M290.91,202.65V204.86M298.75,197.89V199.89M306.60,189.43V191.11M314.45,183.49V184.97M322.29,177.67V178.99M330.14,167.67V168.74M337.98,157.53V158.40M345.83,143.94V144.60M353.68,125.80V126.25M361.52,103.15V103.43" fill="none" stroke="#20c888" stroke-width="1" stroke-dasharray="2.3,1.9" clip-path="url(#cm)"/>
<g clip-path="url(#cm)"><path d="M55.52,264.87L58.32,267.97L55.52,271.07L52.72,267.97Z" fill="#20c888"/><circle cx="55.52" cy="267.97" r="2.1" fill="#20c888"/><path d="M63.37,264.55L66.17,267.65L63.37,270.75L60.57,267.65Z" fill="#20c888"/><circle cx="63.37" cy="267.65" r="2.1" fill="#20c888"/><path d="M71.22,261.53L74.02,264.63L71.22,267.73L68.42,264.63Z" fill="#20c888"/><circle cx="71.22" cy="264.63" r="2.1" fill="#20c888"/><path d="M79.06,267.70L81.86,270.80L79.06,273.90L76.26,270.80Z" fill="#20c888"/><circle cx="79.06" cy="270.80" r="2.1" fill="#20c888"/><path d="M86.91,270.55L89.71,273.65L86.91,276.75L84.11,273.65Z" fill="#20c888"/><circle cx="86.91" cy="273.65" r="2.1" fill="#20c888"/><path d="M94.75,264.04L97.55,267.14L94.75,270.24L91.95,267.14Z" fill="#20c888"/><circle cx="94.75" cy="267.14" r="2.1" fill="#20c888"/><path d="M102.60,260.18L105.40,263.28L102.60,266.38L99.80,263.28Z" fill="#20c888"/><circle cx="102.60" cy="263.28" r="2.1" fill="#20c888"/><path d="M110.45,265.72L113.25,268.82L110.45,271.92L107.65,268.82Z" fill="#20c888"/><circle cx="110.45" cy="268.82" r="2.1" fill="#20c888"/><path d="M118.29,256.13L121.09,259.23L118.29,262.33L115.49,259.23Z" fill="#20c888"/><circle cx="118.29" cy="259.23" r="2.1" fill="#20c888"/><path d="M126.14,259.30L128.94,262.40L126.14,265.50L123.34,262.40Z" fill="#20c888"/><circle cx="126.14" cy="262.40" r="2.1" fill="#20c888"/><path d="M133.98,255.98L136.78,259.08L133.98,262.18L131.18,259.08Z" fill="#20c888"/><circle cx="133.98" cy="259.08" r="2.1" fill="#20c888"/><path d="M141.83,255.61L144.63,258.71L141.83,261.81L139.03,258.71Z" fill="#20c888"/><circle cx="141.83" cy="258.71" r="2.1" fill="#20c888"/><path d="M149.68,251.58L152.48,254.68L149.68,257.78L146.88,254.68Z" fill="#20c888"/><circle cx="149.68" cy="254.68" r="2.1" fill="#20c888"/><path d="M157.52,249.53L160.32,252.63L157.52,255.73L154.72,252.63Z" fill="#20c888"/><circle cx="157.52" cy="252.63" r="2.1" fill="#20c888"/><path d="M165.37,250.35L168.17,253.45L165.37,256.55L162.57,253.45Z" fill="#20c888"/><circle cx="165.37" cy="253.45" r="2.1" fill="#20c888"/><path d="M173.21,245.35L176.01,248.45L173.21,251.55L170.41,248.45Z" fill="#20c888"/><circle cx="173.21" cy="248.45" r="2.1" fill="#20c888"/><path d="M181.06,244.89L183.86,247.99L181.06,251.09L178.26,247.99Z" fill="#20c888"/><circle cx="181.06" cy="247.99" r="2.1" fill="#20c888"/><path d="M188.91,242.79L191.71,245.89L188.91,248.99L186.11,245.89Z" fill="#20c888"/><circle cx="188.91" cy="245.89" r="2.1" fill="#20c888"/><path d="M196.75,241.14L199.55,244.24L196.75,247.34L193.95,244.24Z" fill="#20c888"/><circle cx="196.75" cy="244.24" r="2.1" fill="#20c888"/><path d="M204.60,241.37L207.40,244.47L204.60,247.57L201.80,244.47Z" fill="#20c888"/><circle cx="204.60" cy="244.47" r="2.1" fill="#20c888"/><path d="M212.45,233.23L215.25,236.33L212.45,239.43L209.65,236.33Z" fill="#20c888"/><circle cx="212.45" cy="236.33" r="2.1" fill="#20c888"/><path d="M220.29,233.03L223.09,236.13L220.29,239.23L217.49,236.13Z" fill="#20c888"/><circle cx="220.29" cy="236.13" r="2.1" fill="#20c888"/><path d="M228.14,229.19L230.94,232.29L228.14,235.39L225.34,232.29Z" fill="#20c888"/><circle cx="228.14" cy="232.29" r="2.1" fill="#20c888"/><path d="M235.98,230.41L238.78,233.51L235.98,236.61L233.18,233.51Z" fill="#20c888"/><circle cx="235.98" cy="233.51" r="2.1" fill="#20c888"/><path d="M243.83,222.87L246.63,225.97L243.83,229.07L241.03,225.97Z" fill="#20c888"/><circle cx="243.83" cy="225.97" r="2.1" fill="#20c888"/><path d="M251.68,224.57L254.48,227.67L251.68,230.77L248.88,227.67Z" fill="#20c888"/><circle cx="251.68" cy="227.67" r="2.1" fill="#20c888"/><path d="M259.52,218.19L262.32,221.29L259.52,224.39L256.72,221.29Z" fill="#20c888"/><circle cx="259.52" cy="221.29" r="2.1" fill="#20c888"/><path d="M267.37,212.77L270.17,215.87L267.37,218.97L264.57,215.87Z" fill="#20c888"/><circle cx="267.37" cy="215.87" r="2.1" fill="#20c888"/><path d="M275.21,211.89L278.01,214.99L275.21,218.09L272.41,214.99Z" fill="#20c888"/><circle cx="275.21" cy="214.99" r="2.1" fill="#20c888"/><path d="M283.06,206.39L285.86,209.49L283.06,212.59L280.26,209.49Z" fill="#20c888"/><circle cx="283.06" cy="209.49" r="2.1" fill="#20c888"/><path d="M290.91,200.63L293.71,203.73L290.91,206.83L288.11,203.73Z" fill="#20c888"/><circle cx="290.91" cy="203.73" r="2.1" fill="#20c888"/><path d="M298.75,195.77L301.55,198.87L298.75,201.97L295.95,198.87Z" fill="#20c888"/><circle cx="298.75" cy="198.87" r="2.1" fill="#20c888"/><path d="M306.60,187.15L309.40,190.25L306.60,193.35L303.80,190.25Z" fill="#20c888"/><circle cx="306.60" cy="190.25" r="2.1" fill="#20c888"/><path d="M314.45,181.12L317.25,184.22L314.45,187.32L311.65,184.22Z" fill="#20c888"/><circle cx="314.45" cy="184.22" r="2.1" fill="#20c888"/><path d="M322.29,175.22L325.09,178.32L322.29,181.42L319.49,178.32Z" fill="#20c888"/><circle cx="322.29" cy="178.32" r="2.1" fill="#20c888"/><path d="M330.14,165.10L332.94,168.20L330.14,171.30L327.34,168.20Z" fill="#20c888"/><circle cx="330.14" cy="168.20" r="2.1" fill="#20c888"/><path d="M337.98,154.86L340.78,157.96L337.98,161.06L335.18,157.96Z" fill="#20c888"/><circle cx="337.98" cy="157.96" r="2.1" fill="#20c888"/><path d="M345.83,141.17L348.63,144.27L345.83,147.37L343.03,144.27Z" fill="#20c888"/><circle cx="345.83" cy="144.27" r="2.1" fill="#20c888"/><path d="M353.68,122.93L356.48,126.03L353.68,129.13L350.88,126.03Z" fill="#20c888"/><circle cx="353.68" cy="126.03" r="2.1" fill="#20c888"/><path d="M361.52,100.19L364.32,103.29L361.52,106.39L358.72,103.29Z" fill="#20c888"/><circle cx="361.52" cy="103.29" r="2.1" fill="#20c888"/></g>
<path d="M55.52,266.66L63.37,257.87L71.22,267.93L79.06,269.30L86.91,260.23L94.75,262.61L102.60,266.90L110.45,260.68L118.29,272.42L126.14,259.45L133.98,256.23L141.83,256.75L149.68,255.34L157.52,254.67L165.37,255.06L173.21,255.49L181.06,252.50L188.91,250.20L196.75,247.35L204.60,242.72L212.45,240.64L220.29,236.55L228.14,237.69L235.98,234.77L243.83,232.77L251.68,227.29L259.52,220.89L267.37,220.79L275.21,218.82L283.06,210.78L290.91,205.80L298.75,200.75L306.60,190.89L314.45,186.19L322.29,180.04L330.14,169.61L337.98,158.74L345.83,145.72L353.68,126.82L361.52,100.13" fill="none" stroke="#ff7a30" stroke-width="1.2" stroke-dasharray="3.6,1.9,1,1.9" clip-path="url(#cm)"/>
<path d="M55.52,262.95V271.03M54.02,262.95h3M54.02,271.03h3M63.37,254.73V261.46M71.22,264.13V272.43M69.72,264.13h3M69.72,272.43h3M79.06,265.40V273.93M77.56,265.40h3M77.56,273.93h3M86.91,256.95V264.02M94.75,259.18V266.60M102.60,263.18V271.29M101.10,263.18h3M101.10,271.29h3M110.45,257.37V264.50M118.29,268.29V277.40M116.79,268.29h3M116.79,277.40h3M126.14,256.22V263.17M133.98,253.20V259.70M141.83,253.69V260.26M149.68,252.36V258.74M157.52,251.72V258.02M165.37,252.09V258.44M173.21,252.50V258.90M181.06,249.68V255.70M188.91,247.49V253.23M196.75,244.79V250.20M204.60,240.38V245.30M212.45,238.40V243.12M220.29,234.48V238.81M228.14,235.57V240.01M235.98,232.77V236.95M243.83,230.85V234.86M251.68,225.56V229.15M259.52,219.37V222.51M267.37,219.27V222.41M275.21,217.36V220.37M283.06,209.53V212.09M290.91,204.67V206.98M298.75,199.73V201.81M306.60,190.05V191.75M314.45,185.43V186.98M322.29,179.37V180.73M330.14,169.06V170.16M337.98,158.30V159.18M345.83,145.38V146.06M353.68,126.59V127.05M361.52,100.00V100.26" fill="none" stroke="#ff7a30" stroke-width="1" stroke-dasharray="3.6,1.9,1,1.9" clip-path="url(#cm)"/>
<g clip-path="url(#cm)"><rect x="53.32" y="264.46" width="4.4" height="4.4" fill="#ff7a30"/><rect x="61.17" y="255.67" width="4.4" height="4.4" fill="#ff7a30"/><rect x="69.02" y="265.73" width="4.4" height="4.4" fill="#ff7a30"/><rect x="76.86" y="267.10" width="4.4" height="4.4" fill="#ff7a30"/><rect x="84.71" y="258.03" width="4.4" height="4.4" fill="#ff7a30"/><rect x="92.55" y="260.41" width="4.4" height="4.4" fill="#ff7a30"/><rect x="100.40" y="264.70" width="4.4" height="4.4" fill="#ff7a30"/><rect x="108.25" y="258.48" width="4.4" height="4.4" fill="#ff7a30"/><rect x="116.09" y="270.22" width="4.4" height="4.4" fill="#ff7a30"/><rect x="123.94" y="257.25" width="4.4" height="4.4" fill="#ff7a30"/><rect x="131.78" y="254.03" width="4.4" height="4.4" fill="#ff7a30"/><rect x="139.63" y="254.55" width="4.4" height="4.4" fill="#ff7a30"/><rect x="147.48" y="253.14" width="4.4" height="4.4" fill="#ff7a30"/><rect x="155.32" y="252.47" width="4.4" height="4.4" fill="#ff7a30"/><rect x="163.17" y="252.86" width="4.4" height="4.4" fill="#ff7a30"/><rect x="171.01" y="253.29" width="4.4" height="4.4" fill="#ff7a30"/><rect x="178.86" y="250.30" width="4.4" height="4.4" fill="#ff7a30"/><rect x="186.71" y="248.00" width="4.4" height="4.4" fill="#ff7a30"/><rect x="194.55" y="245.15" width="4.4" height="4.4" fill="#ff7a30"/><rect x="202.40" y="240.52" width="4.4" height="4.4" fill="#ff7a30"/><rect x="210.25" y="238.44" width="4.4" height="4.4" fill="#ff7a30"/><rect x="218.09" y="234.35" width="4.4" height="4.4" fill="#ff7a30"/><rect x="225.94" y="235.49" width="4.4" height="4.4" fill="#ff7a30"/><rect x="233.78" y="232.57" width="4.4" height="4.4" fill="#ff7a30"/><rect x="241.63" y="230.57" width="4.4" height="4.4" fill="#ff7a30"/><rect x="249.48" y="225.09" width="4.4" height="4.4" fill="#ff7a30"/><rect x="257.32" y="218.69" width="4.4" height="4.4" fill="#ff7a30"/><rect x="265.17" y="218.59" width="4.4" height="4.4" fill="#ff7a30"/><rect x="273.01" y="216.62" width="4.4" height="4.4" fill="#ff7a30"/><rect x="280.86" y="208.58" width="4.4" height="4.4" fill="#ff7a30"/><rect x="288.71" y="203.60" width="4.4" height="4.4" fill="#ff7a30"/><rect x="296.55" y="198.55" width="4.4" height="4.4" fill="#ff7a30"/><rect x="304.40" y="188.69" width="4.4" height="4.4" fill="#ff7a30"/><rect x="312.25" y="183.99" width="4.4" height="4.4" fill="#ff7a30"/><rect x="320.09" y="177.84" width="4.4" height="4.4" fill="#ff7a30"/><rect x="327.94" y="167.41" width="4.4" height="4.4" fill="#ff7a30"/><rect x="335.78" y="156.54" width="4.4" height="4.4" fill="#ff7a30"/><rect x="343.63" y="143.52" width="4.4" height="4.4" fill="#ff7a30"/><rect x="351.48" y="124.62" width="4.4" height="4.4" fill="#ff7a30"/><rect x="359.32" y="97.93" width="4.4" height="4.4" fill="#ff7a30"/></g>
<path d="M55.52,264.44L63.37,262.50L71.22,266.43L79.06,262.83L86.91,266.20L94.75,257.98L102.60,259.75L110.45,255.23L118.29,263.06L126.14,250.63L133.98,263.64L141.83,258.19L149.68,258.04L157.52,249.21L165.37,251.00L173.21,250.17L181.06,251.34L188.91,244.59L196.75,246.84L204.60,237.67L212.45,238.39L220.29,236.13L228.14,232.09L235.98,230.73L243.83,228.09L251.68,225.78L259.52,221.53L267.37,217.58L275.21,213.42L283.06,208.60L290.91,201.55L298.75,197.37L306.60,189.33L314.45,182.32L322.29,176.53L330.14,166.40L337.98,155.77L345.83,143.01L353.68,125.28L361.52,102.31" fill="none" stroke="#00aa00" stroke-width="1.2" stroke-dasharray="3,1.6" clip-path="url(#cm)"/>
<path d="M55.52,260.89V268.59M54.02,260.89h3M54.02,268.59h3M63.37,259.08V266.48M71.22,262.74V270.77M69.72,262.74h3M69.72,270.77h3M79.06,259.39V266.84M86.91,262.53V270.53M85.41,262.53h3M85.41,270.53h3M94.75,254.84V261.58M102.60,256.51V263.50M110.45,252.25V258.62M118.29,259.60V267.09M126.14,247.91V253.70M133.98,260.14V267.72M141.83,255.04V261.81M149.68,254.90V261.65M157.52,246.56V252.18M165.37,248.25V254.09M173.21,247.47V253.20M181.06,248.57V254.45M188.91,242.17V247.28M196.75,244.31V249.67M204.60,235.55V239.99M212.45,236.24V240.75M220.29,234.08V238.38M228.14,230.19V234.14M235.98,228.88V232.73M243.83,226.33V229.98M251.68,224.11V227.58M259.52,219.99V223.17M267.37,216.15V219.09M275.21,212.11V214.80M283.06,207.41V209.85M290.91,200.51V202.63M298.75,196.42V198.36M306.60,188.52V190.17M314.45,181.62V183.05M322.29,175.90V177.17M330.14,165.89V166.92M337.98,155.36V156.19M345.83,142.69V143.33M353.68,125.06V125.51M361.52,102.17V102.45" fill="none" stroke="#00aa00" stroke-width="1" stroke-dasharray="3,1.6" clip-path="url(#cm)"/>
<g clip-path="url(#cm)"><path d="M52.52,262.14L58.52,262.14L55.52,267.34Z" fill="#00aa00"/><path d="M60.37,260.20L66.37,260.20L63.37,265.40Z" fill="#00aa00"/><path d="M68.22,264.13L74.22,264.13L71.22,269.33Z" fill="#00aa00"/><path d="M76.06,260.53L82.06,260.53L79.06,265.73Z" fill="#00aa00"/><path d="M83.91,263.90L89.91,263.90L86.91,269.10Z" fill="#00aa00"/><path d="M91.75,255.68L97.75,255.68L94.75,260.88Z" fill="#00aa00"/><path d="M99.60,257.45L105.60,257.45L102.60,262.65Z" fill="#00aa00"/><path d="M107.45,252.93L113.45,252.93L110.45,258.13Z" fill="#00aa00"/><path d="M115.29,260.76L121.29,260.76L118.29,265.96Z" fill="#00aa00"/><path d="M123.14,248.33L129.14,248.33L126.14,253.53Z" fill="#00aa00"/><path d="M130.98,261.34L136.98,261.34L133.98,266.54Z" fill="#00aa00"/><path d="M138.83,255.89L144.83,255.89L141.83,261.09Z" fill="#00aa00"/><path d="M146.68,255.74L152.68,255.74L149.68,260.94Z" fill="#00aa00"/><path d="M154.52,246.91L160.52,246.91L157.52,252.11Z" fill="#00aa00"/><path d="M162.37,248.70L168.37,248.70L165.37,253.90Z" fill="#00aa00"/><path d="M170.21,247.87L176.21,247.87L173.21,253.07Z" fill="#00aa00"/><path d="M178.06,249.04L184.06,249.04L181.06,254.24Z" fill="#00aa00"/><path d="M185.91,242.29L191.91,242.29L188.91,247.49Z" fill="#00aa00"/><path d="M193.75,244.54L199.75,244.54L196.75,249.74Z" fill="#00aa00"/><path d="M201.60,235.37L207.60,235.37L204.60,240.57Z" fill="#00aa00"/><path d="M209.45,236.09L215.45,236.09L212.45,241.29Z" fill="#00aa00"/><path d="M217.29,233.83L223.29,233.83L220.29,239.03Z" fill="#00aa00"/><path d="M225.14,229.79L231.14,229.79L228.14,234.99Z" fill="#00aa00"/><path d="M232.98,228.43L238.98,228.43L235.98,233.63Z" fill="#00aa00"/><path d="M240.83,225.79L246.83,225.79L243.83,230.99Z" fill="#00aa00"/><path d="M248.68,223.48L254.68,223.48L251.68,228.68Z" fill="#00aa00"/><path d="M256.52,219.23L262.52,219.23L259.52,224.43Z" fill="#00aa00"/><path d="M264.37,215.28L270.37,215.28L267.37,220.48Z" fill="#00aa00"/><path d="M272.21,211.12L278.21,211.12L275.21,216.32Z" fill="#00aa00"/><path d="M280.06,206.30L286.06,206.30L283.06,211.50Z" fill="#00aa00"/><path d="M287.91,199.25L293.91,199.25L290.91,204.45Z" fill="#00aa00"/><path d="M295.75,195.07L301.75,195.07L298.75,200.27Z" fill="#00aa00"/><path d="M303.60,187.03L309.60,187.03L306.60,192.23Z" fill="#00aa00"/><path d="M311.45,180.02L317.45,180.02L314.45,185.22Z" fill="#00aa00"/><path d="M319.29,174.23L325.29,174.23L322.29,179.43Z" fill="#00aa00"/><path d="M327.14,164.10L333.14,164.10L330.14,169.30Z" fill="#00aa00"/><path d="M334.98,153.47L340.98,153.47L337.98,158.67Z" fill="#00aa00"/><path d="M342.83,140.71L348.83,140.71L345.83,145.91Z" fill="#00aa00"/><path d="M350.68,122.98L356.68,122.98L353.68,128.18Z" fill="#00aa00"/><path d="M358.52,100.01L364.52,100.01L361.52,105.21Z" fill="#00aa00"/></g>
<path d="M55.52,249.27L63.37,255.55L71.22,252.26L79.06,246.19L86.91,252.47L94.75,254.96L102.60,247.97L110.45,247.39L118.29,253.32L126.14,241.27L133.98,241.16L141.83,243.05L149.68,246.58L157.52,239.60L165.37,238.06L173.21,240.27L181.06,236.43L188.91,234.75L196.75,228.87L204.60,228.87L212.45,225.85L220.29,222.72L228.14,216.75L235.98,217.35L243.83,211.68L251.68,210.51L259.52,207.41L267.37,206.29L275.21,199.52L283.06,196.24L290.91,190.17L298.75,184.27L306.60,177.47L314.45,171.92L322.29,168.69L330.14,158.53L337.98,150.45L345.83,140.32L353.68,126.10L361.52,108.38" fill="none" stroke="#404040" stroke-width="1.2" clip-path="url(#cm)"/>
<path d="M55.52,246.61V252.25M63.37,252.55V258.96M71.22,249.45V255.44M79.06,243.69V248.97M86.91,249.65V255.66M94.75,251.99V258.33M102.60,245.38V250.87M110.45,244.83V250.25M118.29,250.45V256.57M126.14,239.00V243.77M133.98,238.90V243.66M141.83,240.70V245.65M149.68,244.06V249.38M157.52,237.40V242.02M165.37,235.93V240.40M173.21,238.04V242.72M181.06,234.37V238.69M188.91,232.75V236.92M196.75,227.09V230.79M204.60,227.09V230.79M212.45,224.17V227.65M220.29,221.14V224.41M228.14,215.35V218.24M235.98,215.93V218.85M243.83,210.41V213.01M251.68,209.27V211.81M259.52,206.25V208.63M267.37,205.15V207.48M275.21,198.53V200.56M283.06,195.31V197.21M290.91,189.35V191.02M298.75,183.54V185.02M306.60,176.83V178.12M314.45,171.35V172.51M322.29,168.16V169.24M330.14,158.10V158.97M337.98,150.08V150.83M345.83,140.02V140.62M353.68,125.88V126.33M361.52,108.22V108.53" fill="none" stroke="#404040" stroke-width="1" clip-path="url(#cm)"/>
<g clip-path="url(#cm)"><circle cx="55.52" cy="249.27" r="2.3" fill="none" stroke="#404040" stroke-width="1.05"/><circle cx="63.37" cy="255.55" r="2.3" fill="none" stroke="#404040" stroke-width="1.05"/><circle cx="71.22" cy="252.26" r="2.3" fill="none" stroke="#404040" stroke-width="1.05"/><circle cx="79.06" cy="246.19" r="2.3" fill="none" stroke="#404040" stroke-width="1.05"/><circle cx="86.91" cy="252.47" r="2.3" fill="none" stroke="#404040" stroke-width="1.05"/><circle cx="94.75" cy="254.96" r="2.3" fill="none" stroke="#404040" stroke-width="1.05"/><circle cx="102.60" cy="247.97" r="2.3" fill="none" stroke="#404040" stroke-width="1.05"/><circle cx="110.45" cy="247.39" r="2.3" fill="none" stroke="#404040" stroke-width="1.05"/><circle cx="118.29" cy="253.32" r="2.3" fill="none" stroke="#404040" stroke-width="1.05"/><circle cx="126.14" cy="241.27" r="2.3" fill="none" stroke="#404040" stroke-width="1.05"/><circle cx="133.98" cy="241.16" r="2.3" fill="none" stroke="#404040" stroke-width="1.05"/><circle cx="141.83" cy="243.05" r="2.3" fill="none" stroke="#404040" stroke-width="1.05"/><circle cx="149.68" cy="246.58" r="2.3" fill="none" stroke="#404040" stroke-width="1.05"/><circle cx="157.52" cy="239.60" r="2.3" fill="none" stroke="#404040" stroke-width="1.05"/><circle cx="165.37" cy="238.06" r="2.3" fill="none" stroke="#404040" stroke-width="1.05"/><circle cx="173.21" cy="240.27" r="2.3" fill="none" stroke="#404040" stroke-width="1.05"/><circle cx="181.06" cy="236.43" r="2.3" fill="none" stroke="#404040" stroke-width="1.05"/><circle cx="188.91" cy="234.75" r="2.3" fill="none" stroke="#404040" stroke-width="1.05"/><circle cx="196.75" cy="228.87" r="2.3" fill="none" stroke="#404040" stroke-width="1.05"/><circle cx="204.60" cy="228.87" r="2.3" fill="none" stroke="#404040" stroke-width="1.05"/><circle cx="212.45" cy="225.85" r="2.3" fill="none" stroke="#404040" stroke-width="1.05"/><circle cx="220.29" cy="222.72" r="2.3" fill="none" stroke="#404040" stroke-width="1.05"/><circle cx="228.14" cy="216.75" r="2.3" fill="none" stroke="#404040" stroke-width="1.05"/><circle cx="235.98" cy="217.35" r="2.3" fill="none" stroke="#404040" stroke-width="1.05"/><circle cx="243.83" cy="211.68" r="2.3" fill="none" stroke="#404040" stroke-width="1.05"/><circle cx="251.68" cy="210.51" r="2.3" fill="none" stroke="#404040" stroke-width="1.05"/><circle cx="259.52" cy="207.41" r="2.3" fill="none" stroke="#404040" stroke-width="1.05"/><circle cx="267.37" cy="206.29" r="2.3" fill="none" stroke="#404040" stroke-width="1.05"/><circle cx="275.21" cy="199.52" r="2.3" fill="none" stroke="#404040" stroke-width="1.05"/><circle cx="283.06" cy="196.24" r="2.3" fill="none" stroke="#404040" stroke-width="1.05"/><circle cx="290.91" cy="190.17" r="2.3" fill="none" stroke="#404040" stroke-width="1.05"/><circle cx="298.75" cy="184.27" r="2.3" fill="none" stroke="#404040" stroke-width="1.05"/><circle cx="306.60" cy="177.47" r="2.3" fill="none" stroke="#404040" stroke-width="1.05"/><circle cx="314.45" cy="171.92" r="2.3" fill="none" stroke="#404040" stroke-width="1.05"/><circle cx="322.29" cy="168.69" r="2.3" fill="none" stroke="#404040" stroke-width="1.05"/><circle cx="330.14" cy="158.53" r="2.3" fill="none" stroke="#404040" stroke-width="1.05"/><circle cx="337.98" cy="150.45" r="2.3" fill="none" stroke="#404040" stroke-width="1.05"/><circle cx="345.83" cy="140.32" r="2.3" fill="none" stroke="#404040" stroke-width="1.05"/><circle cx="353.68" cy="126.10" r="2.3" fill="none" stroke="#404040" stroke-width="1.05"/><circle cx="361.52" cy="108.38" r="2.3" fill="none" stroke="#404040" stroke-width="1.05"/></g>
<path d="M64.4,62.00H88.9" stroke="#a8203a" stroke-width="1.05"/>
<g transform="translate(76.4,62.00) scale(0.85)"><path d="M0.00,-3.60L3.40,2.70L-3.40,2.70Z" fill="none" stroke="#a8203a" stroke-width="1.35"/></g>
<path d="M64.4,75.07H88.9" stroke="#ff2a5a" stroke-width="1.05" stroke-dasharray="2.3,1.9"/>
<g transform="translate(76.4,75.07) scale(0.85)"><circle cx="0.00" cy="0.00" r="2.3" fill="none" stroke="#ff2a5a" stroke-width="1.05"/></g>
<path d="M64.4,88.14H88.9" stroke="#20c888" stroke-width="1.05" stroke-dasharray="2.3,1.9"/>
<g transform="translate(76.4,88.14) scale(0.85)"><path d="M0.00,-3.10L2.80,0.00L0.00,3.10L-2.80,0.00Z" fill="#20c888"/><circle cx="0.00" cy="0.00" r="2.1" fill="#20c888"/></g>
<path d="M64.4,101.21H88.9" stroke="#ff7a30" stroke-width="1.05" stroke-dasharray="3.6,1.9,1,1.9"/>
<g transform="translate(76.4,101.21) scale(0.85)"><rect x="-2.20" y="-2.20" width="4.4" height="4.4" fill="#ff7a30"/></g>
<path d="M64.4,114.28H88.9" stroke="#00aa00" stroke-width="1.05" stroke-dasharray="3,1.6"/>
<g transform="translate(76.4,114.28) scale(0.85)"><path d="M-3.00,-2.30L3.00,-2.30L0.00,2.90Z" fill="#00aa00"/></g>
<path d="M64.4,127.35H88.9" stroke="#404040" stroke-width="1.05"/>
<g transform="translate(76.4,127.35) scale(0.85)"><circle cx="0.00" cy="0.00" r="2.3" fill="none" stroke="#404040" stroke-width="1.05"/></g>
<path d="M51.60,17.35v8.5M51.60,311.3v12.0M51.60,477.6v-4.6M61.59,17.35v2.3M61.59,315.90000000000003v2.8M61.59,477.6v-1.2M71.58,17.35v4.0M71.58,314.0v6.6M71.58,477.6v-1.8M81.57,17.35v2.3M81.57,315.90000000000003v2.8M81.57,477.6v-1.2M91.56,17.35v4.0M91.56,314.0v6.6M91.56,477.6v-1.8M101.55,17.35v2.3M101.55,315.90000000000003v2.8M101.55,477.6v-1.2M111.54,17.35v4.0M111.54,314.0v6.6M111.54,477.6v-1.8M121.53,17.35v2.3M121.53,315.90000000000003v2.8M121.53,477.6v-1.2M131.52,17.35v4.0M131.52,314.0v6.6M131.52,477.6v-1.8M141.51,17.35v2.3M141.51,315.90000000000003v2.8M141.51,477.6v-1.2M151.50,17.35v8.5M151.50,311.3v12.0M151.50,477.6v-4.6M161.49,17.35v2.3M161.49,315.90000000000003v2.8M161.49,477.6v-1.2M171.48,17.35v4.0M171.48,314.0v6.6M171.48,477.6v-1.8M181.47,17.35v2.3M181.47,315.90000000000003v2.8M181.47,477.6v-1.2M191.46,17.35v4.0M191.46,314.0v6.6M191.46,477.6v-1.8M201.45,17.35v2.3M201.45,315.90000000000003v2.8M201.45,477.6v-1.2M211.44,17.35v4.0M211.44,314.0v6.6M211.44,477.6v-1.8M221.43,17.35v2.3M221.43,315.90000000000003v2.8M221.43,477.6v-1.2M231.42,17.35v4.0M231.42,314.0v6.6M231.42,477.6v-1.8M241.41,17.35v2.3M241.41,315.90000000000003v2.8M241.41,477.6v-1.2M251.40,17.35v8.5M251.40,311.3v12.0M251.40,477.6v-4.6M261.39,17.35v2.3M261.39,315.90000000000003v2.8M261.39,477.6v-1.2M271.38,17.35v4.0M271.38,314.0v6.6M271.38,477.6v-1.8M281.37,17.35v2.3M281.37,315.90000000000003v2.8M281.37,477.6v-1.2M291.36,17.35v4.0M291.36,314.0v6.6M291.36,477.6v-1.8M301.35,17.35v2.3M301.35,315.90000000000003v2.8M301.35,477.6v-1.2M311.34,17.35v4.0M311.34,314.0v6.6M311.34,477.6v-1.8M321.33,17.35v2.3M321.33,315.90000000000003v2.8M321.33,477.6v-1.2M331.32,17.35v4.0M331.32,314.0v6.6M331.32,477.6v-1.8M341.31,17.35v2.3M341.31,315.90000000000003v2.8M341.31,477.6v-1.2M351.30,17.35v8.5M351.30,311.3v12.0M351.30,477.6v-4.6M361.29,17.35v2.3M361.29,315.90000000000003v2.8M361.29,477.6v-1.2M45.5,312.90h5.8M371.2,312.90h-5.8M45.5,307.45h5.8M371.2,307.45h-5.8M45.5,302.99h5.8M371.2,302.99h-5.8M45.5,299.22h5.8M371.2,299.22h-5.8M45.5,295.96h5.8M371.2,295.96h-5.8M45.5,293.08h5.8M371.2,293.08h-5.8M45.5,290.50h11M371.2,290.50h-11M45.5,273.55h5.8M371.2,273.55h-5.8M45.5,263.64h5.8M371.2,263.64h-5.8M45.5,256.60h5.8M371.2,256.60h-5.8M45.5,251.15h5.8M371.2,251.15h-5.8M45.5,246.69h5.8M371.2,246.69h-5.8M45.5,242.92h5.8M371.2,242.92h-5.8M45.5,239.66h5.8M371.2,239.66h-5.8M45.5,236.78h5.8M371.2,236.78h-5.8M45.5,234.20h11M371.2,234.20h-11M45.5,217.25h5.8M371.2,217.25h-5.8M45.5,207.34h5.8M371.2,207.34h-5.8M45.5,200.30h5.8M371.2,200.30h-5.8M45.5,194.85h5.8M371.2,194.85h-5.8M45.5,190.39h5.8M371.2,190.39h-5.8M45.5,186.62h5.8M371.2,186.62h-5.8M45.5,183.36h5.8M371.2,183.36h-5.8M45.5,180.48h5.8M371.2,180.48h-5.8M45.5,177.90h11M371.2,177.90h-11M45.5,160.95h5.8M371.2,160.95h-5.8M45.5,151.04h5.8M371.2,151.04h-5.8M45.5,144.00h5.8M371.2,144.00h-5.8M45.5,138.55h5.8M371.2,138.55h-5.8M45.5,134.09h5.8M371.2,134.09h-5.8M45.5,130.32h5.8M371.2,130.32h-5.8M45.5,127.06h5.8M371.2,127.06h-5.8M45.5,124.18h5.8M371.2,124.18h-5.8M45.5,121.60h11M371.2,121.60h-11M45.5,104.65h5.8M371.2,104.65h-5.8M45.5,94.74h5.8M371.2,94.74h-5.8M45.5,87.70h5.8M371.2,87.70h-5.8M45.5,82.25h5.8M371.2,82.25h-5.8M45.5,77.79h5.8M371.2,77.79h-5.8M45.5,74.02h5.8M371.2,74.02h-5.8M45.5,70.76h5.8M371.2,70.76h-5.8M45.5,67.88h5.8M371.2,67.88h-5.8M45.5,65.30h11M371.2,65.30h-11M45.5,48.35h5.8M371.2,48.35h-5.8M45.5,38.44h5.8M371.2,38.44h-5.8M45.5,31.40h5.8M371.2,31.40h-5.8M45.5,25.95h5.8M371.2,25.95h-5.8M45.5,21.49h5.8M371.2,21.49h-5.8M45.5,17.72h5.8M371.2,17.72h-5.8M45.5,477.31h5M371.2,477.31h-5M45.5,457.80h7M371.2,457.80h-7M45.5,441.86h5M371.2,441.86h-5M45.5,428.38h5M371.2,428.38h-5M45.5,416.71h5M371.2,416.71h-5M45.5,406.41h5M371.2,406.41h-5M45.5,397.20h7M371.2,397.20h-7M45.5,388.87h5M371.2,388.87h-5M45.5,381.26h5M371.2,381.26h-5M45.5,374.26h5M371.2,374.26h-5M45.5,367.78h5M371.2,367.78h-5M45.5,361.75h5M371.2,361.75h-5M45.5,356.11h5M371.2,356.11h-5M45.5,350.81h5M371.2,350.81h-5M45.5,345.81h5M371.2,345.81h-5M45.5,341.09h5M371.2,341.09h-5M45.5,336.60h7M371.2,336.60h-7M45.5,332.34h5M371.2,332.34h-5M45.5,328.27h5M371.2,328.27h-5M45.5,324.38h5M371.2,324.38h-5M45.5,320.66h5M371.2,320.66h-5" stroke="#000" stroke-width="0.95" fill="none"/>
<rect x="45.5" y="17.35" width="325.70" height="460.25" fill="none" stroke="#000" stroke-width="1.5"/>
<path d="M45.5,317.3H371.2" stroke="#000" stroke-width="1.5"/>
<text x="51.6" y="14.3" font-size="12.0" text-anchor="start" fill="#000" >1960 GeV ppbar</text>
<text x="367.6" y="14.3" font-size="12.0" text-anchor="end" fill="#000" >Top (parton level)</text>
<text x="161.8" y="43.2" font-size="10.0" text-anchor="start" fill="#000" >Δϕ (ttbar) (Mtt &lt; 450)</text>
<text x="40.4" y="71.1" font-size="11.0" text-anchor="end">10<tspan font-size="7.6" dy="-5.0">2</tspan></text>
<text x="40.2" y="125.9" font-size="11.0" text-anchor="end" fill="#000" >10</text>
<text x="39.8" y="182.4" font-size="11.4" text-anchor="end" fill="#000" >1</text>
<text x="41.2" y="239.0" font-size="11.0" text-anchor="end">10<tspan font-size="7.6" dy="-5.0">−1</tspan></text>
<text x="40.0" y="295.0" font-size="11.0" text-anchor="end">10<tspan font-size="7.6" dy="-5.0">−2</tspan></text>
<text x="38.6" y="341.0" font-size="11.4" text-anchor="end" fill="#000" >2</text>
<text x="38.6" y="401.6" font-size="11.4" text-anchor="end" fill="#000" >1</text>
<text x="38.6" y="462.0" font-size="11.4" text-anchor="end" fill="#000" >0.5</text>
<text x="374.0" y="341.0" font-size="11.4" text-anchor="start" fill="#000" >2</text>
<text x="374.0" y="401.6" font-size="11.4" text-anchor="start" fill="#000" >1</text>
<text x="374.0" y="462.0" font-size="11.4" text-anchor="start" fill="#000" >0.5</text>
<text x="51.60" y="489.3" font-size="11.4" text-anchor="middle" fill="#000" >0</text>
<text x="151.50" y="489.3" font-size="11.4" text-anchor="middle" fill="#000" >1</text>
<text x="251.40" y="489.3" font-size="11.4" text-anchor="middle" fill="#000" >2</text>
<text x="351.30" y="489.3" font-size="11.4" text-anchor="middle" fill="#000" >3</text>
<text x="173.3" y="303.2" font-size="7.9" text-anchor="start" fill="#999" >(MC_FBA_TTBAR)</text>
<text transform="translate(379.6,18.7) rotate(-90)" font-size="9.5" text-anchor="end" fill="#888">Rivet 4.1.0, ≥ 100k events</text>
<text transform="translate(379.6,167.5) rotate(-90)" font-size="9.7" text-anchor="end" fill="#888">mcplots.cern.ch [arXiv:1306.3436]</text>
<text transform="translate(17.5,345.3) rotate(-90)" font-size="9.1" text-anchor="end">Ratio to Pythia 6.428 370</text>
<text x="94.0" y="64.40" font-size="9.5" text-anchor="start" fill="#1a1a1a" >Pythia 6.428 370</text>
<text x="94.0" y="77.47" font-size="9.5" text-anchor="start" fill="#1a1a1a" >Pythia 6.428 atlas-csc</text>
<text x="94.0" y="90.54" font-size="9.5" text-anchor="start" fill="#1a1a1a" >Pythia 6.428 d6t</text>
<text x="94.0" y="103.61" font-size="9.5" text-anchor="start" fill="#1a1a1a" >Pythia 6.428 default</text>
<text x="94.0" y="116.68" font-size="9.5" text-anchor="start" fill="#1a1a1a" >Pythia 6.428 dw</text>
<text x="94.0" y="129.75" font-size="9.5" text-anchor="start" fill="#1a1a1a" >Pythia 6.428 p0</text>
</svg></body></html>
